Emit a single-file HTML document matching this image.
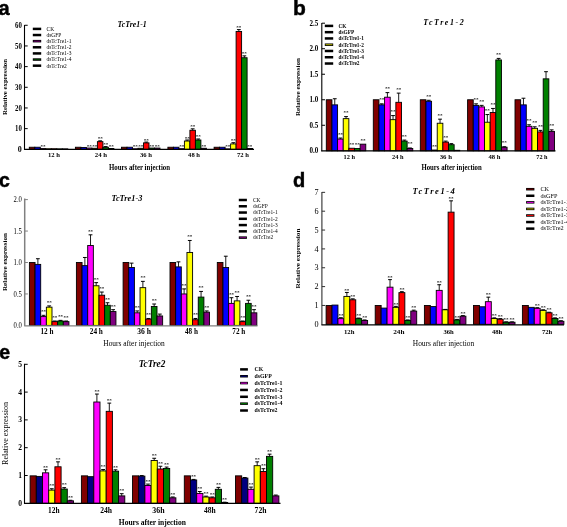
<!DOCTYPE html>
<html><head><meta charset="utf-8"><style>
html,body{margin:0;padding:0;background:#fff;}
body{width:567px;height:527px;overflow:hidden;}
svg{display:block;will-change:transform;}
</style></head><body>
<svg width="567" height="527" viewBox="0 0 567 527">
<rect x="0" y="0" width="567" height="527" fill="#fff"/>
<rect x="29.3" y="147.23" width="5.5" height="2.07" fill="#800000" stroke="#000" stroke-width="0.9"/>
<rect x="34.8" y="147.23" width="5.5" height="2.07" fill="#0000ff" stroke="#000" stroke-width="0.9"/>
<rect x="40.3" y="148.58" width="5.5" height="0.72" fill="#ff00ff" stroke="#000" stroke-width="0.9"/>
<text x="43.05" y="148.08" font-family='"Liberation Serif", serif' font-size="5" font-weight="bold" font-style="normal" text-anchor="middle" fill="#000">**</text>
<rect x="45.8" y="148.78" width="5.5" height="0.52" fill="#ffff00" stroke="#000" stroke-width="0.9"/>
<rect x="51.3" y="148.78" width="5.5" height="0.52" fill="#ff0000" stroke="#000" stroke-width="0.9"/>
<rect x="56.8" y="148.89" width="5.5" height="0.41" fill="#008000" stroke="#000" stroke-width="0.9"/>
<rect x="62.3" y="148.89" width="5.5" height="0.41" fill="#800080" stroke="#000" stroke-width="0.9"/>
<rect x="75.4" y="147.23" width="5.5" height="2.07" fill="#800000" stroke="#000" stroke-width="0.9"/>
<rect x="80.9" y="147.44" width="5.5" height="1.86" fill="#0000ff" stroke="#000" stroke-width="0.9"/>
<rect x="86.4" y="148.06" width="5.5" height="1.24" fill="#ff00ff" stroke="#000" stroke-width="0.9"/>
<text x="89.15" y="147.56" font-family='"Liberation Serif", serif' font-size="5" font-weight="bold" font-style="normal" text-anchor="middle" fill="#000">**</text>
<rect x="91.9" y="148.27" width="5.5" height="1.03" fill="#ffff00" stroke="#000" stroke-width="0.9"/>
<text x="94.65" y="147.77" font-family='"Liberation Serif", serif' font-size="5" font-weight="bold" font-style="normal" text-anchor="middle" fill="#000">**</text>
<rect x="97.4" y="141.65" width="5.5" height="7.65" fill="#ff0000" stroke="#000" stroke-width="0.9"/>
<line x1="100.15" y1="141.65" x2="100.15" y2="140.83" stroke="#000" stroke-width="0.9"/>
<line x1="98.25" y1="140.83" x2="102.05" y2="140.83" stroke="#000" stroke-width="1"/>
<text x="100.15" y="140.33" font-family='"Liberation Serif", serif' font-size="5" font-weight="bold" font-style="normal" text-anchor="middle" fill="#000">**</text>
<rect x="102.9" y="147.23" width="5.5" height="2.07" fill="#008000" stroke="#000" stroke-width="0.9"/>
<line x1="105.65" y1="147.23" x2="105.65" y2="146.61" stroke="#000" stroke-width="0.9"/>
<line x1="103.75" y1="146.61" x2="107.55" y2="146.61" stroke="#000" stroke-width="1"/>
<text x="105.65" y="146.11" font-family='"Liberation Serif", serif' font-size="5" font-weight="bold" font-style="normal" text-anchor="middle" fill="#000">**</text>
<rect x="108.4" y="148.47" width="5.5" height="0.83" fill="#800080" stroke="#000" stroke-width="0.9"/>
<text x="111.15" y="147.97" font-family='"Liberation Serif", serif' font-size="5" font-weight="bold" font-style="normal" text-anchor="middle" fill="#000">**</text>
<rect x="121.5" y="147.23" width="5.5" height="2.07" fill="#800000" stroke="#000" stroke-width="0.9"/>
<rect x="127" y="147.23" width="5.5" height="2.07" fill="#0000ff" stroke="#000" stroke-width="0.9"/>
<rect x="132.5" y="148.78" width="5.5" height="0.52" fill="#ff00ff" stroke="#000" stroke-width="0.9"/>
<text x="135.25" y="148.28" font-family='"Liberation Serif", serif' font-size="5" font-weight="bold" font-style="normal" text-anchor="middle" fill="#000">**</text>
<rect x="138" y="148.27" width="5.5" height="1.03" fill="#ffff00" stroke="#000" stroke-width="0.9"/>
<text x="140.75" y="147.77" font-family='"Liberation Serif", serif' font-size="5" font-weight="bold" font-style="normal" text-anchor="middle" fill="#000">**</text>
<rect x="143.5" y="142.89" width="5.5" height="6.41" fill="#ff0000" stroke="#000" stroke-width="0.9"/>
<line x1="146.25" y1="142.89" x2="146.25" y2="142.07" stroke="#000" stroke-width="0.9"/>
<line x1="144.35" y1="142.07" x2="148.15" y2="142.07" stroke="#000" stroke-width="1"/>
<text x="146.25" y="141.57" font-family='"Liberation Serif", serif' font-size="5" font-weight="bold" font-style="normal" text-anchor="middle" fill="#000">**</text>
<rect x="149" y="148.06" width="5.5" height="1.24" fill="#008000" stroke="#000" stroke-width="0.9"/>
<text x="151.75" y="147.56" font-family='"Liberation Serif", serif' font-size="5" font-weight="bold" font-style="normal" text-anchor="middle" fill="#000">**</text>
<rect x="154.5" y="148.06" width="5.5" height="1.24" fill="#800080" stroke="#000" stroke-width="0.9"/>
<text x="157.25" y="147.56" font-family='"Liberation Serif", serif' font-size="5" font-weight="bold" font-style="normal" text-anchor="middle" fill="#000">**</text>
<rect x="167.9" y="147.23" width="5.5" height="2.07" fill="#800000" stroke="#000" stroke-width="0.9"/>
<rect x="173.4" y="147.23" width="5.5" height="2.07" fill="#0000ff" stroke="#000" stroke-width="0.9"/>
<rect x="178.9" y="148.68" width="5.5" height="0.62" fill="#ff00ff" stroke="#000" stroke-width="0.9"/>
<text x="181.65" y="148.18" font-family='"Liberation Serif", serif' font-size="5" font-weight="bold" font-style="normal" text-anchor="middle" fill="#000">**</text>
<rect x="184.4" y="141.03" width="5.5" height="8.27" fill="#ffff00" stroke="#000" stroke-width="0.9"/>
<line x1="187.15" y1="141.03" x2="187.15" y2="140" stroke="#000" stroke-width="0.9"/>
<line x1="185.25" y1="140" x2="189.05" y2="140" stroke="#000" stroke-width="1"/>
<text x="187.15" y="139.5" font-family='"Liberation Serif", serif' font-size="5" font-weight="bold" font-style="normal" text-anchor="middle" fill="#000">**</text>
<rect x="189.9" y="130.28" width="5.5" height="19.02" fill="#ff0000" stroke="#000" stroke-width="0.9"/>
<line x1="192.65" y1="130.28" x2="192.65" y2="128.84" stroke="#000" stroke-width="0.9"/>
<line x1="190.75" y1="128.84" x2="194.55" y2="128.84" stroke="#000" stroke-width="1"/>
<text x="192.65" y="128.34" font-family='"Liberation Serif", serif' font-size="5" font-weight="bold" font-style="normal" text-anchor="middle" fill="#000">**</text>
<rect x="195.4" y="140" width="5.5" height="9.3" fill="#008000" stroke="#000" stroke-width="0.9"/>
<line x1="198.15" y1="140" x2="198.15" y2="138.97" stroke="#000" stroke-width="0.9"/>
<line x1="196.25" y1="138.97" x2="200.05" y2="138.97" stroke="#000" stroke-width="1"/>
<text x="198.15" y="138.47" font-family='"Liberation Serif", serif' font-size="5" font-weight="bold" font-style="normal" text-anchor="middle" fill="#000">**</text>
<rect x="200.9" y="148.27" width="5.5" height="1.03" fill="#800080" stroke="#000" stroke-width="0.9"/>
<text x="203.65" y="147.77" font-family='"Liberation Serif", serif' font-size="5" font-weight="bold" font-style="normal" text-anchor="middle" fill="#000">**</text>
<rect x="214.1" y="147.23" width="5.5" height="2.07" fill="#800000" stroke="#000" stroke-width="0.9"/>
<rect x="219.6" y="147.23" width="5.5" height="2.07" fill="#0000ff" stroke="#000" stroke-width="0.9"/>
<rect x="225.1" y="148.89" width="5.5" height="0.41" fill="#ff00ff" stroke="#000" stroke-width="0.9"/>
<text x="227.85" y="148.39" font-family='"Liberation Serif", serif' font-size="5" font-weight="bold" font-style="normal" text-anchor="middle" fill="#000">**</text>
<rect x="230.6" y="143.93" width="5.5" height="5.37" fill="#ffff00" stroke="#000" stroke-width="0.9"/>
<line x1="233.35" y1="143.93" x2="233.35" y2="142.69" stroke="#000" stroke-width="0.9"/>
<line x1="231.45" y1="142.69" x2="235.25" y2="142.69" stroke="#000" stroke-width="1"/>
<text x="233.35" y="142.19" font-family='"Liberation Serif", serif' font-size="5" font-weight="bold" font-style="normal" text-anchor="middle" fill="#000">**</text>
<rect x="236.1" y="31.48" width="5.5" height="117.82" fill="#ff0000" stroke="#000" stroke-width="0.9"/>
<line x1="238.85" y1="31.48" x2="238.85" y2="29.62" stroke="#000" stroke-width="0.9"/>
<line x1="236.95" y1="29.62" x2="240.75" y2="29.62" stroke="#000" stroke-width="1"/>
<text x="238.85" y="29.12" font-family='"Liberation Serif", serif' font-size="5" font-weight="bold" font-style="normal" text-anchor="middle" fill="#000">**</text>
<rect x="241.6" y="57.73" width="5.5" height="91.57" fill="#008000" stroke="#000" stroke-width="0.9"/>
<line x1="244.35" y1="57.73" x2="244.35" y2="55.87" stroke="#000" stroke-width="0.9"/>
<line x1="242.45" y1="55.87" x2="246.25" y2="55.87" stroke="#000" stroke-width="1"/>
<text x="244.35" y="55.37" font-family='"Liberation Serif", serif' font-size="5" font-weight="bold" font-style="normal" text-anchor="middle" fill="#000">**</text>
<rect x="247.1" y="148.47" width="5.5" height="0.83" fill="#800080" stroke="#000" stroke-width="0.9"/>
<text x="249.85" y="147.97" font-family='"Liberation Serif", serif' font-size="5" font-weight="bold" font-style="normal" text-anchor="middle" fill="#000">**</text>
<line x1="24.5" y1="25" x2="24.5" y2="149.8" stroke="#000" stroke-width="1.1"/>
<line x1="24" y1="149.3" x2="254" y2="149.3" stroke="#000" stroke-width="1.2"/>
<text x="21.8" y="151.94" font-family='"Liberation Serif", serif' font-size="8" font-weight="bold" font-style="normal" text-anchor="end" fill="#000">0</text>
<line x1="24.5" y1="128.63" x2="27.7" y2="128.63" stroke="#000" stroke-width="1"/>
<text x="21.8" y="131.27" font-family='"Liberation Serif", serif' font-size="8" font-weight="bold" font-style="normal" text-anchor="end" fill="#000" textLength="6.8" lengthAdjust="spacingAndGlyphs">10</text>
<line x1="24.5" y1="107.96" x2="27.7" y2="107.96" stroke="#000" stroke-width="1"/>
<text x="21.8" y="110.6" font-family='"Liberation Serif", serif' font-size="8" font-weight="bold" font-style="normal" text-anchor="end" fill="#000" textLength="6.8" lengthAdjust="spacingAndGlyphs">20</text>
<line x1="24.5" y1="87.29" x2="27.7" y2="87.29" stroke="#000" stroke-width="1"/>
<text x="21.8" y="89.93" font-family='"Liberation Serif", serif' font-size="8" font-weight="bold" font-style="normal" text-anchor="end" fill="#000" textLength="6.8" lengthAdjust="spacingAndGlyphs">30</text>
<line x1="24.5" y1="66.62" x2="27.7" y2="66.62" stroke="#000" stroke-width="1"/>
<text x="21.8" y="69.26" font-family='"Liberation Serif", serif' font-size="8" font-weight="bold" font-style="normal" text-anchor="end" fill="#000" textLength="6.8" lengthAdjust="spacingAndGlyphs">40</text>
<line x1="24.5" y1="45.95" x2="27.7" y2="45.95" stroke="#000" stroke-width="1"/>
<text x="21.8" y="48.59" font-family='"Liberation Serif", serif' font-size="8" font-weight="bold" font-style="normal" text-anchor="end" fill="#000" textLength="6.8" lengthAdjust="spacingAndGlyphs">50</text>
<line x1="24.5" y1="25.28" x2="27.7" y2="25.28" stroke="#000" stroke-width="1"/>
<text x="21.8" y="27.92" font-family='"Liberation Serif", serif' font-size="8" font-weight="bold" font-style="normal" text-anchor="end" fill="#000" textLength="6.8" lengthAdjust="spacingAndGlyphs">60</text>
<text x="-1.5" y="14.5" font-family='"Liberation Sans", sans-serif' font-size="20" font-weight="bold" font-style="normal" text-anchor="start" fill="#000" stroke="#000" stroke-width="0.45">a</text>
<text x="117.6" y="26.9" font-family='"Liberation Serif", serif' font-size="9" font-weight="bold" font-style="italic" text-anchor="start" fill="#000" textLength="29.2" lengthAdjust="spacingAndGlyphs">TcTre1-1</text>
<text transform="translate(7.4 87) rotate(-90)" x="0" y="0" font-family='"Liberation Serif", serif' font-size="7" font-weight="bold" text-anchor="middle" textLength="56" lengthAdjust="spacingAndGlyphs">Relative expression</text>
<text x="47.9" y="156.9" font-family='"Liberation Serif", serif' font-size="7" font-weight="bold" font-style="normal" text-anchor="start" fill="#000" textLength="12" lengthAdjust="spacingAndGlyphs">12 h</text>
<text x="94.8" y="156.9" font-family='"Liberation Serif", serif' font-size="7" font-weight="bold" font-style="normal" text-anchor="start" fill="#000" textLength="12.3" lengthAdjust="spacingAndGlyphs">24 h</text>
<text x="139.9" y="156.9" font-family='"Liberation Serif", serif' font-size="7" font-weight="bold" font-style="normal" text-anchor="start" fill="#000" textLength="12.1" lengthAdjust="spacingAndGlyphs">36 h</text>
<text x="188.1" y="156.9" font-family='"Liberation Serif", serif' font-size="7" font-weight="bold" font-style="normal" text-anchor="start" fill="#000" textLength="11.9" lengthAdjust="spacingAndGlyphs">48 h</text>
<text x="237" y="156.9" font-family='"Liberation Serif", serif' font-size="7" font-weight="bold" font-style="normal" text-anchor="start" fill="#000" textLength="11.9" lengthAdjust="spacingAndGlyphs">72 h</text>
<text x="109" y="169.6" font-family='"Liberation Serif", serif' font-size="7.5" font-weight="bold" font-style="normal" text-anchor="start" fill="#000" textLength="61" lengthAdjust="spacingAndGlyphs">Hours after injection</text>
<rect x="32.8" y="27.65" width="8.4" height="2.5" fill="#000" stroke="#000" stroke-width="0"/>
<text x="46.5" y="30.71" font-family='"Liberation Serif", serif' font-size="5.5" font-weight="normal" font-style="normal" text-anchor="start" fill="#000" textLength="7.59" lengthAdjust="spacingAndGlyphs">CK</text>
<rect x="32.8" y="33.78" width="8.4" height="2.5" fill="#000" stroke="#000" stroke-width="0"/>
<text x="46.5" y="36.84" font-family='"Liberation Serif", serif' font-size="5.5" font-weight="normal" font-style="normal" text-anchor="start" fill="#000" textLength="14.87" lengthAdjust="spacingAndGlyphs">dsGFP</text>
<rect x="32.8" y="39.91" width="8.4" height="2.5" fill="#000" stroke="#000" stroke-width="0"/>
<rect x="33.6" y="40.71" width="6.8" height="0.9" fill="#800080" stroke="#000" stroke-width="0"/>
<text x="46.5" y="42.97" font-family='"Liberation Serif", serif' font-size="5.5" font-weight="normal" font-style="normal" text-anchor="start" fill="#000" textLength="24.9" lengthAdjust="spacingAndGlyphs">dsTcTre1-1</text>
<rect x="32.8" y="46.04" width="8.4" height="2.5" fill="#000" stroke="#000" stroke-width="0"/>
<text x="46.5" y="49.1" font-family='"Liberation Serif", serif' font-size="5.5" font-weight="normal" font-style="normal" text-anchor="start" fill="#000" textLength="24.9" lengthAdjust="spacingAndGlyphs">dsTcTre1-2</text>
<rect x="32.8" y="52.17" width="8.4" height="2.5" fill="#000" stroke="#000" stroke-width="0"/>
<text x="46.5" y="55.23" font-family='"Liberation Serif", serif' font-size="5.5" font-weight="normal" font-style="normal" text-anchor="start" fill="#000" textLength="24.9" lengthAdjust="spacingAndGlyphs">dsTcTre1-3</text>
<rect x="32.8" y="58.3" width="8.4" height="2.5" fill="#000" stroke="#000" stroke-width="0"/>
<rect x="33.6" y="59.1" width="6.8" height="0.9" fill="#004000" stroke="#000" stroke-width="0"/>
<text x="46.5" y="61.36" font-family='"Liberation Serif", serif' font-size="5.5" font-weight="normal" font-style="normal" text-anchor="start" fill="#000" textLength="24.9" lengthAdjust="spacingAndGlyphs">dsTcTre1-4</text>
<rect x="32.8" y="64.43" width="8.4" height="2.5" fill="#000" stroke="#000" stroke-width="0"/>
<text x="46.5" y="67.5" font-family='"Liberation Serif", serif' font-size="5.5" font-weight="normal" font-style="normal" text-anchor="start" fill="#000" textLength="20.35" lengthAdjust="spacingAndGlyphs">dsTcTre2</text>
<rect x="326.3" y="99.76" width="5.64" height="51.04" fill="#800000" stroke="#000" stroke-width="0.9"/>
<rect x="331.94" y="104.86" width="5.64" height="45.94" fill="#0000ff" stroke="#000" stroke-width="0.9"/>
<line x1="334.76" y1="104.86" x2="334.76" y2="98.74" stroke="#000" stroke-width="0.9"/>
<line x1="332.86" y1="98.74" x2="336.66" y2="98.74" stroke="#000" stroke-width="1"/>
<rect x="337.58" y="139.06" width="5.64" height="11.74" fill="#ff00ff" stroke="#000" stroke-width="0.9"/>
<line x1="340.4" y1="139.06" x2="340.4" y2="138.04" stroke="#000" stroke-width="0.9"/>
<line x1="338.5" y1="138.04" x2="342.3" y2="138.04" stroke="#000" stroke-width="1"/>
<text x="340.4" y="135.54" font-family='"Liberation Serif", serif' font-size="5" font-weight="bold" font-style="normal" text-anchor="middle" fill="#000">**</text>
<rect x="343.22" y="118.64" width="5.64" height="32.16" fill="#ffff00" stroke="#000" stroke-width="0.9"/>
<line x1="346.04" y1="118.64" x2="346.04" y2="116.6" stroke="#000" stroke-width="0.9"/>
<line x1="344.14" y1="116.6" x2="347.94" y2="116.6" stroke="#000" stroke-width="1"/>
<text x="346.04" y="114.1" font-family='"Liberation Serif", serif' font-size="5" font-weight="bold" font-style="normal" text-anchor="middle" fill="#000">**</text>
<rect x="348.86" y="148.25" width="5.64" height="2.55" fill="#ff0000" stroke="#000" stroke-width="0.9"/>
<text x="351.68" y="145.75" font-family='"Liberation Serif", serif' font-size="5" font-weight="bold" font-style="normal" text-anchor="middle" fill="#000">**</text>
<rect x="354.5" y="148.5" width="5.64" height="2.3" fill="#008000" stroke="#000" stroke-width="0.9"/>
<text x="357.32" y="146" font-family='"Liberation Serif", serif' font-size="5" font-weight="bold" font-style="normal" text-anchor="middle" fill="#000">**</text>
<rect x="360.14" y="144.16" width="5.64" height="6.64" fill="#800080" stroke="#000" stroke-width="0.9"/>
<text x="362.96" y="141.66" font-family='"Liberation Serif", serif' font-size="5" font-weight="bold" font-style="normal" text-anchor="middle" fill="#000">**</text>
<rect x="373.3" y="99.76" width="5.64" height="51.04" fill="#800000" stroke="#000" stroke-width="0.9"/>
<rect x="378.94" y="104.86" width="5.64" height="45.94" fill="#0000ff" stroke="#000" stroke-width="0.9"/>
<line x1="381.76" y1="104.86" x2="381.76" y2="103.84" stroke="#000" stroke-width="0.9"/>
<line x1="379.86" y1="103.84" x2="383.66" y2="103.84" stroke="#000" stroke-width="1"/>
<text x="381.76" y="101.34" font-family='"Liberation Serif", serif' font-size="5" font-weight="bold" font-style="normal" text-anchor="middle" fill="#000">**</text>
<rect x="384.58" y="97.21" width="5.64" height="53.59" fill="#ff00ff" stroke="#000" stroke-width="0.9"/>
<line x1="387.4" y1="97.21" x2="387.4" y2="92.61" stroke="#000" stroke-width="0.9"/>
<line x1="385.5" y1="92.61" x2="389.3" y2="92.61" stroke="#000" stroke-width="1"/>
<text x="387.4" y="90.11" font-family='"Liberation Serif", serif' font-size="5" font-weight="bold" font-style="normal" text-anchor="middle" fill="#000">**</text>
<rect x="390.22" y="119.67" width="5.64" height="31.13" fill="#ffff00" stroke="#000" stroke-width="0.9"/>
<line x1="393.04" y1="119.67" x2="393.04" y2="115.58" stroke="#000" stroke-width="0.9"/>
<line x1="391.14" y1="115.58" x2="394.94" y2="115.58" stroke="#000" stroke-width="1"/>
<text x="393.04" y="113.08" font-family='"Liberation Serif", serif' font-size="5" font-weight="bold" font-style="normal" text-anchor="middle" fill="#000">**</text>
<rect x="395.86" y="102.31" width="5.64" height="48.49" fill="#ff0000" stroke="#000" stroke-width="0.9"/>
<line x1="398.68" y1="102.31" x2="398.68" y2="93.12" stroke="#000" stroke-width="0.9"/>
<line x1="396.78" y1="93.12" x2="400.58" y2="93.12" stroke="#000" stroke-width="1"/>
<text x="398.68" y="90.62" font-family='"Liberation Serif", serif' font-size="5" font-weight="bold" font-style="normal" text-anchor="middle" fill="#000">**</text>
<rect x="401.5" y="141.1" width="5.64" height="9.7" fill="#008000" stroke="#000" stroke-width="0.9"/>
<line x1="404.32" y1="141.1" x2="404.32" y2="140.08" stroke="#000" stroke-width="0.9"/>
<line x1="402.42" y1="140.08" x2="406.22" y2="140.08" stroke="#000" stroke-width="1"/>
<text x="404.32" y="137.58" font-family='"Liberation Serif", serif' font-size="5" font-weight="bold" font-style="normal" text-anchor="middle" fill="#000">**</text>
<rect x="407.14" y="148.5" width="5.64" height="2.3" fill="#800080" stroke="#000" stroke-width="0.9"/>
<line x1="409.96" y1="148.5" x2="409.96" y2="147.99" stroke="#000" stroke-width="0.9"/>
<line x1="408.06" y1="147.99" x2="411.86" y2="147.99" stroke="#000" stroke-width="1"/>
<text x="409.96" y="145.49" font-family='"Liberation Serif", serif' font-size="5" font-weight="bold" font-style="normal" text-anchor="middle" fill="#000">**</text>
<rect x="420.3" y="99.76" width="5.64" height="51.04" fill="#800000" stroke="#000" stroke-width="0.9"/>
<rect x="425.94" y="101.29" width="5.64" height="49.51" fill="#0000ff" stroke="#000" stroke-width="0.9"/>
<line x1="428.76" y1="101.29" x2="428.76" y2="100.27" stroke="#000" stroke-width="0.9"/>
<line x1="426.86" y1="100.27" x2="430.66" y2="100.27" stroke="#000" stroke-width="1"/>
<text x="428.76" y="97.77" font-family='"Liberation Serif", serif' font-size="5" font-weight="bold" font-style="normal" text-anchor="middle" fill="#000">**</text>
<rect x="431.58" y="150.03" width="5.64" height="0.77" fill="#ff00ff" stroke="#000" stroke-width="0.9"/>
<text x="434.4" y="147.53" font-family='"Liberation Serif", serif' font-size="5" font-weight="bold" font-style="normal" text-anchor="middle" fill="#000">**</text>
<rect x="437.22" y="123.24" width="5.64" height="27.56" fill="#ffff00" stroke="#000" stroke-width="0.9"/>
<line x1="440.04" y1="123.24" x2="440.04" y2="119.16" stroke="#000" stroke-width="0.9"/>
<line x1="438.14" y1="119.16" x2="441.94" y2="119.16" stroke="#000" stroke-width="1"/>
<text x="440.04" y="116.66" font-family='"Liberation Serif", serif' font-size="5" font-weight="bold" font-style="normal" text-anchor="middle" fill="#000">**</text>
<rect x="442.86" y="142.12" width="5.64" height="8.68" fill="#ff0000" stroke="#000" stroke-width="0.9"/>
<line x1="445.68" y1="142.12" x2="445.68" y2="141.1" stroke="#000" stroke-width="0.9"/>
<line x1="443.78" y1="141.1" x2="447.58" y2="141.1" stroke="#000" stroke-width="1"/>
<text x="445.68" y="138.6" font-family='"Liberation Serif", serif' font-size="5" font-weight="bold" font-style="normal" text-anchor="middle" fill="#000">**</text>
<rect x="448.5" y="144.68" width="5.64" height="6.12" fill="#008000" stroke="#000" stroke-width="0.9"/>
<line x1="451.32" y1="144.68" x2="451.32" y2="143.65" stroke="#000" stroke-width="0.9"/>
<line x1="449.42" y1="143.65" x2="453.22" y2="143.65" stroke="#000" stroke-width="1"/>
<rect x="454.14" y="150.29" width="5.64" height="0.51" fill="#800080" stroke="#000" stroke-width="0.9"/>
<rect x="467.6" y="99.76" width="5.64" height="51.04" fill="#800000" stroke="#000" stroke-width="0.9"/>
<rect x="473.24" y="105.37" width="5.64" height="45.43" fill="#0000ff" stroke="#000" stroke-width="0.9"/>
<line x1="476.06" y1="105.37" x2="476.06" y2="103.84" stroke="#000" stroke-width="0.9"/>
<line x1="474.16" y1="103.84" x2="477.96" y2="103.84" stroke="#000" stroke-width="1"/>
<text x="476.06" y="101.34" font-family='"Liberation Serif", serif' font-size="5" font-weight="bold" font-style="normal" text-anchor="middle" fill="#000">**</text>
<rect x="478.88" y="106.91" width="5.64" height="43.89" fill="#ff00ff" stroke="#000" stroke-width="0.9"/>
<line x1="481.7" y1="106.91" x2="481.7" y2="105.37" stroke="#000" stroke-width="0.9"/>
<line x1="479.8" y1="105.37" x2="483.6" y2="105.37" stroke="#000" stroke-width="1"/>
<text x="481.7" y="102.87" font-family='"Liberation Serif", serif' font-size="5" font-weight="bold" font-style="normal" text-anchor="middle" fill="#000">**</text>
<rect x="484.52" y="122.22" width="5.64" height="28.58" fill="#ffff00" stroke="#000" stroke-width="0.9"/>
<line x1="487.34" y1="122.22" x2="487.34" y2="114.56" stroke="#000" stroke-width="0.9"/>
<line x1="485.44" y1="114.56" x2="489.24" y2="114.56" stroke="#000" stroke-width="1"/>
<text x="487.34" y="112.06" font-family='"Liberation Serif", serif' font-size="5" font-weight="bold" font-style="normal" text-anchor="middle" fill="#000">**</text>
<rect x="490.16" y="112.52" width="5.64" height="38.28" fill="#ff0000" stroke="#000" stroke-width="0.9"/>
<line x1="492.98" y1="112.52" x2="492.98" y2="108.44" stroke="#000" stroke-width="0.9"/>
<line x1="491.08" y1="108.44" x2="494.88" y2="108.44" stroke="#000" stroke-width="1"/>
<text x="492.98" y="105.94" font-family='"Liberation Serif", serif' font-size="5" font-weight="bold" font-style="normal" text-anchor="middle" fill="#000">**</text>
<rect x="495.8" y="59.95" width="5.64" height="90.85" fill="#008000" stroke="#000" stroke-width="0.9"/>
<line x1="498.62" y1="59.95" x2="498.62" y2="58.42" stroke="#000" stroke-width="0.9"/>
<line x1="496.72" y1="58.42" x2="500.52" y2="58.42" stroke="#000" stroke-width="1"/>
<text x="498.62" y="55.92" font-family='"Liberation Serif", serif' font-size="5" font-weight="bold" font-style="normal" text-anchor="middle" fill="#000">**</text>
<rect x="501.44" y="147.23" width="5.64" height="3.57" fill="#800080" stroke="#000" stroke-width="0.9"/>
<line x1="504.26" y1="147.23" x2="504.26" y2="146.72" stroke="#000" stroke-width="0.9"/>
<line x1="502.36" y1="146.72" x2="506.16" y2="146.72" stroke="#000" stroke-width="1"/>
<text x="504.26" y="144.22" font-family='"Liberation Serif", serif' font-size="5" font-weight="bold" font-style="normal" text-anchor="middle" fill="#000">**</text>
<rect x="515" y="99.76" width="5.64" height="51.04" fill="#800000" stroke="#000" stroke-width="0.9"/>
<rect x="520.64" y="104.86" width="5.64" height="45.94" fill="#0000ff" stroke="#000" stroke-width="0.9"/>
<line x1="523.46" y1="104.86" x2="523.46" y2="98.23" stroke="#000" stroke-width="0.9"/>
<line x1="521.56" y1="98.23" x2="525.36" y2="98.23" stroke="#000" stroke-width="1"/>
<rect x="526.28" y="126.3" width="5.64" height="24.5" fill="#ff00ff" stroke="#000" stroke-width="0.9"/>
<line x1="529.1" y1="126.3" x2="529.1" y2="124.77" stroke="#000" stroke-width="0.9"/>
<line x1="527.2" y1="124.77" x2="531" y2="124.77" stroke="#000" stroke-width="1"/>
<text x="529.1" y="122.27" font-family='"Liberation Serif", serif' font-size="5" font-weight="bold" font-style="normal" text-anchor="middle" fill="#000">**</text>
<rect x="531.92" y="128.34" width="5.64" height="22.46" fill="#ffff00" stroke="#000" stroke-width="0.9"/>
<line x1="534.74" y1="128.34" x2="534.74" y2="126.81" stroke="#000" stroke-width="0.9"/>
<line x1="532.84" y1="126.81" x2="536.64" y2="126.81" stroke="#000" stroke-width="1"/>
<text x="534.74" y="124.31" font-family='"Liberation Serif", serif' font-size="5" font-weight="bold" font-style="normal" text-anchor="middle" fill="#000">**</text>
<rect x="537.56" y="131.92" width="5.64" height="18.88" fill="#ff0000" stroke="#000" stroke-width="0.9"/>
<line x1="540.38" y1="131.92" x2="540.38" y2="130.38" stroke="#000" stroke-width="0.9"/>
<line x1="538.48" y1="130.38" x2="542.28" y2="130.38" stroke="#000" stroke-width="1"/>
<text x="540.38" y="127.88" font-family='"Liberation Serif", serif' font-size="5" font-weight="bold" font-style="normal" text-anchor="middle" fill="#000">**</text>
<rect x="543.2" y="78.83" width="5.64" height="71.97" fill="#008000" stroke="#000" stroke-width="0.9"/>
<line x1="546.02" y1="78.83" x2="546.02" y2="71.69" stroke="#000" stroke-width="0.9"/>
<line x1="544.12" y1="71.69" x2="547.92" y2="71.69" stroke="#000" stroke-width="1"/>
<rect x="548.84" y="131.4" width="5.64" height="19.4" fill="#800080" stroke="#000" stroke-width="0.9"/>
<line x1="551.66" y1="131.4" x2="551.66" y2="129.87" stroke="#000" stroke-width="0.9"/>
<line x1="549.76" y1="129.87" x2="553.56" y2="129.87" stroke="#000" stroke-width="1"/>
<text x="551.66" y="127.37" font-family='"Liberation Serif", serif' font-size="5" font-weight="bold" font-style="normal" text-anchor="middle" fill="#000">**</text>
<line x1="321.8" y1="23" x2="321.8" y2="151.3" stroke="#000" stroke-width="1.1"/>
<line x1="321.3" y1="150.8" x2="555.5" y2="150.8" stroke="#000" stroke-width="1.2"/>
<text x="318.3" y="153.37" font-family='"Liberation Serif", serif' font-size="7.8" font-weight="bold" font-style="normal" text-anchor="end" fill="#000" textLength="8.8" lengthAdjust="spacingAndGlyphs">0.0</text>
<line x1="321.8" y1="125.28" x2="325" y2="125.28" stroke="#000" stroke-width="1"/>
<text x="318.3" y="127.85" font-family='"Liberation Serif", serif' font-size="7.8" font-weight="bold" font-style="normal" text-anchor="end" fill="#000" textLength="8.8" lengthAdjust="spacingAndGlyphs">0.5</text>
<line x1="321.8" y1="99.76" x2="325" y2="99.76" stroke="#000" stroke-width="1"/>
<text x="318.3" y="102.33" font-family='"Liberation Serif", serif' font-size="7.8" font-weight="bold" font-style="normal" text-anchor="end" fill="#000" textLength="8.8" lengthAdjust="spacingAndGlyphs">1.0</text>
<line x1="321.8" y1="74.24" x2="325" y2="74.24" stroke="#000" stroke-width="1"/>
<text x="318.3" y="76.81" font-family='"Liberation Serif", serif' font-size="7.8" font-weight="bold" font-style="normal" text-anchor="end" fill="#000" textLength="8.8" lengthAdjust="spacingAndGlyphs">1.5</text>
<line x1="321.8" y1="48.72" x2="325" y2="48.72" stroke="#000" stroke-width="1"/>
<text x="318.3" y="51.29" font-family='"Liberation Serif", serif' font-size="7.8" font-weight="bold" font-style="normal" text-anchor="end" fill="#000" textLength="8.8" lengthAdjust="spacingAndGlyphs">2.0</text>
<line x1="321.8" y1="23.2" x2="325" y2="23.2" stroke="#000" stroke-width="1"/>
<text x="318.3" y="25.77" font-family='"Liberation Serif", serif' font-size="7.8" font-weight="bold" font-style="normal" text-anchor="end" fill="#000" textLength="8.8" lengthAdjust="spacingAndGlyphs">2.5</text>
<text x="292.9" y="14.7" font-family='"Liberation Sans", sans-serif' font-size="21" font-weight="bold" font-style="normal" text-anchor="start" fill="#000" stroke="#000" stroke-width="0.45">b</text>
<text x="423.2" y="25" font-family='"Liberation Serif", serif' font-size="8" font-weight="bold" font-style="italic" textLength="40.5" lengthAdjust="spacing">TcTre1-2</text>
<text transform="translate(300.2 87) rotate(-90)" x="0" y="0" font-family='"Liberation Serif", serif' font-size="7" font-weight="bold" text-anchor="middle" textLength="58" lengthAdjust="spacingAndGlyphs">Relative expression</text>
<text x="343.5" y="158.6" font-family='"Liberation Serif", serif' font-size="7" font-weight="bold" font-style="normal" text-anchor="start" fill="#000" textLength="11.5" lengthAdjust="spacingAndGlyphs">12 h</text>
<text x="392" y="158.6" font-family='"Liberation Serif", serif' font-size="7" font-weight="bold" font-style="normal" text-anchor="start" fill="#000" textLength="11.5" lengthAdjust="spacingAndGlyphs">24 h</text>
<text x="439.7" y="158.6" font-family='"Liberation Serif", serif' font-size="7" font-weight="bold" font-style="normal" text-anchor="start" fill="#000" textLength="12.3" lengthAdjust="spacingAndGlyphs">36 h</text>
<text x="488.5" y="158.6" font-family='"Liberation Serif", serif' font-size="7" font-weight="bold" font-style="normal" text-anchor="start" fill="#000" textLength="12" lengthAdjust="spacingAndGlyphs">48 h</text>
<text x="536.3" y="158.6" font-family='"Liberation Serif", serif' font-size="7" font-weight="bold" font-style="normal" text-anchor="start" fill="#000" textLength="11.3" lengthAdjust="spacingAndGlyphs">72 h</text>
<text x="421.5" y="169.8" font-family='"Liberation Serif", serif' font-size="7.5" font-weight="bold" font-style="normal" text-anchor="start" fill="#000" textLength="60.2" lengthAdjust="spacingAndGlyphs">Hours after injection</text>
<rect x="324.8" y="24.65" width="8.4" height="2.5" fill="#000" stroke="#000" stroke-width="0"/>
<text x="338.5" y="27.71" font-family='"Liberation Serif", serif' font-size="5.5" font-weight="bold" font-style="normal" text-anchor="start" fill="#000" textLength="8" lengthAdjust="spacingAndGlyphs">CK</text>
<rect x="324.8" y="30.92" width="8.4" height="2.5" fill="#000" stroke="#000" stroke-width="0"/>
<text x="338.5" y="33.98" font-family='"Liberation Serif", serif' font-size="5.5" font-weight="bold" font-style="normal" text-anchor="start" fill="#000" textLength="15.71" lengthAdjust="spacingAndGlyphs">dsGFP</text>
<rect x="324.8" y="37.19" width="8.4" height="2.5" fill="#000" stroke="#000" stroke-width="0"/>
<text x="338.5" y="40.25" font-family='"Liberation Serif", serif' font-size="5.5" font-weight="bold" font-style="normal" text-anchor="start" fill="#000" textLength="25.4" lengthAdjust="spacingAndGlyphs">dsTcTre1-1</text>
<rect x="324.8" y="43.46" width="8.4" height="2.5" fill="#000" stroke="#000" stroke-width="0"/>
<rect x="325.6" y="44.26" width="6.8" height="0.9" fill="#c0c000" stroke="#000" stroke-width="0"/>
<text x="338.5" y="46.52" font-family='"Liberation Serif", serif' font-size="5.5" font-weight="bold" font-style="normal" text-anchor="start" fill="#000" textLength="25.4" lengthAdjust="spacingAndGlyphs">dsTcTre1-2</text>
<rect x="324.8" y="49.73" width="8.4" height="2.5" fill="#000" stroke="#000" stroke-width="0"/>
<text x="338.5" y="52.79" font-family='"Liberation Serif", serif' font-size="5.5" font-weight="bold" font-style="normal" text-anchor="start" fill="#000" textLength="25.4" lengthAdjust="spacingAndGlyphs">dsTcTre1-3</text>
<rect x="324.8" y="56" width="8.4" height="2.5" fill="#000" stroke="#000" stroke-width="0"/>
<text x="338.5" y="59.06" font-family='"Liberation Serif", serif' font-size="5.5" font-weight="bold" font-style="normal" text-anchor="start" fill="#000" textLength="25.4" lengthAdjust="spacingAndGlyphs">dsTcTre1-4</text>
<rect x="324.8" y="62.27" width="8.4" height="2.5" fill="#000" stroke="#000" stroke-width="0"/>
<text x="338.5" y="65.33" font-family='"Liberation Serif", serif' font-size="5.5" font-weight="bold" font-style="normal" text-anchor="start" fill="#000" textLength="20.96" lengthAdjust="spacingAndGlyphs">dsTcTre2</text>
<rect x="29.4" y="262.5" width="5.65" height="62.9" fill="#800000" stroke="#000" stroke-width="0.9"/>
<rect x="35.05" y="264.39" width="5.65" height="61.01" fill="#0000ff" stroke="#000" stroke-width="0.9"/>
<line x1="37.88" y1="264.39" x2="37.88" y2="258.73" stroke="#000" stroke-width="0.9"/>
<line x1="35.98" y1="258.73" x2="39.77" y2="258.73" stroke="#000" stroke-width="1"/>
<rect x="40.7" y="316.59" width="5.65" height="8.81" fill="#ff00ff" stroke="#000" stroke-width="0.9"/>
<line x1="43.53" y1="316.59" x2="43.53" y2="315.34" stroke="#000" stroke-width="0.9"/>
<line x1="41.63" y1="315.34" x2="45.43" y2="315.34" stroke="#000" stroke-width="1"/>
<text x="43.53" y="313.34" font-family='"Liberation Serif", serif' font-size="5" font-weight="bold" font-style="normal" text-anchor="middle" fill="#000">**</text>
<rect x="46.35" y="307.16" width="5.65" height="18.24" fill="#ffff00" stroke="#000" stroke-width="0.9"/>
<line x1="49.18" y1="307.16" x2="49.18" y2="305.9" stroke="#000" stroke-width="0.9"/>
<line x1="47.28" y1="305.9" x2="51.08" y2="305.9" stroke="#000" stroke-width="1"/>
<text x="49.18" y="303.9" font-family='"Liberation Serif", serif' font-size="5" font-weight="bold" font-style="normal" text-anchor="middle" fill="#000">**</text>
<rect x="52" y="321.63" width="5.65" height="3.77" fill="#ff0000" stroke="#000" stroke-width="0.9"/>
<line x1="54.83" y1="321.63" x2="54.83" y2="321" stroke="#000" stroke-width="0.9"/>
<line x1="52.93" y1="321" x2="56.73" y2="321" stroke="#000" stroke-width="1"/>
<text x="54.83" y="319" font-family='"Liberation Serif", serif' font-size="5" font-weight="bold" font-style="normal" text-anchor="middle" fill="#000">**</text>
<rect x="57.65" y="321" width="5.65" height="4.4" fill="#008000" stroke="#000" stroke-width="0.9"/>
<line x1="60.48" y1="321" x2="60.48" y2="320.37" stroke="#000" stroke-width="0.9"/>
<line x1="58.58" y1="320.37" x2="62.38" y2="320.37" stroke="#000" stroke-width="1"/>
<text x="60.48" y="318.37" font-family='"Liberation Serif", serif' font-size="5" font-weight="bold" font-style="normal" text-anchor="middle" fill="#000">**</text>
<rect x="63.3" y="321.63" width="5.65" height="3.77" fill="#800080" stroke="#000" stroke-width="0.9"/>
<line x1="66.12" y1="321.63" x2="66.12" y2="321" stroke="#000" stroke-width="0.9"/>
<line x1="64.22" y1="321" x2="68.03" y2="321" stroke="#000" stroke-width="1"/>
<text x="66.12" y="319" font-family='"Liberation Serif", serif' font-size="5" font-weight="bold" font-style="normal" text-anchor="middle" fill="#000">**</text>
<rect x="76.4" y="262.5" width="5.65" height="62.9" fill="#800000" stroke="#000" stroke-width="0.9"/>
<rect x="82.05" y="265.64" width="5.65" height="59.75" fill="#0000ff" stroke="#000" stroke-width="0.9"/>
<line x1="84.88" y1="265.64" x2="84.88" y2="257.47" stroke="#000" stroke-width="0.9"/>
<line x1="82.98" y1="257.47" x2="86.78" y2="257.47" stroke="#000" stroke-width="1"/>
<rect x="87.7" y="245.52" width="5.65" height="79.88" fill="#ff00ff" stroke="#000" stroke-width="0.9"/>
<line x1="90.53" y1="245.52" x2="90.53" y2="234.82" stroke="#000" stroke-width="0.9"/>
<line x1="88.62" y1="234.82" x2="92.43" y2="234.82" stroke="#000" stroke-width="1"/>
<text x="90.53" y="232.82" font-family='"Liberation Serif", serif' font-size="5" font-weight="bold" font-style="normal" text-anchor="middle" fill="#000">**</text>
<rect x="93.35" y="285.77" width="5.65" height="39.63" fill="#ffff00" stroke="#000" stroke-width="0.9"/>
<line x1="96.18" y1="285.77" x2="96.18" y2="282.63" stroke="#000" stroke-width="0.9"/>
<line x1="94.28" y1="282.63" x2="98.08" y2="282.63" stroke="#000" stroke-width="1"/>
<text x="96.18" y="280.63" font-family='"Liberation Serif", serif' font-size="5" font-weight="bold" font-style="normal" text-anchor="middle" fill="#000">**</text>
<rect x="99" y="295.21" width="5.65" height="30.19" fill="#ff0000" stroke="#000" stroke-width="0.9"/>
<line x1="101.83" y1="295.21" x2="101.83" y2="292.06" stroke="#000" stroke-width="0.9"/>
<line x1="99.92" y1="292.06" x2="103.73" y2="292.06" stroke="#000" stroke-width="1"/>
<text x="101.83" y="290.06" font-family='"Liberation Serif", serif' font-size="5" font-weight="bold" font-style="normal" text-anchor="middle" fill="#000">**</text>
<rect x="104.65" y="305.27" width="5.65" height="20.13" fill="#008000" stroke="#000" stroke-width="0.9"/>
<line x1="107.48" y1="305.27" x2="107.48" y2="302.76" stroke="#000" stroke-width="0.9"/>
<line x1="105.58" y1="302.76" x2="109.38" y2="302.76" stroke="#000" stroke-width="1"/>
<text x="107.48" y="300.76" font-family='"Liberation Serif", serif' font-size="5" font-weight="bold" font-style="normal" text-anchor="middle" fill="#000">**</text>
<rect x="110.3" y="311.56" width="5.65" height="13.84" fill="#800080" stroke="#000" stroke-width="0.9"/>
<line x1="113.13" y1="311.56" x2="113.13" y2="309.67" stroke="#000" stroke-width="0.9"/>
<line x1="111.23" y1="309.67" x2="115.03" y2="309.67" stroke="#000" stroke-width="1"/>
<text x="113.13" y="307.67" font-family='"Liberation Serif", serif' font-size="5" font-weight="bold" font-style="normal" text-anchor="middle" fill="#000">**</text>
<rect x="123.1" y="262.5" width="5.65" height="62.9" fill="#800000" stroke="#000" stroke-width="0.9"/>
<rect x="128.75" y="267.53" width="5.65" height="57.87" fill="#0000ff" stroke="#000" stroke-width="0.9"/>
<line x1="131.57" y1="267.53" x2="131.57" y2="263.13" stroke="#000" stroke-width="0.9"/>
<line x1="129.67" y1="263.13" x2="133.47" y2="263.13" stroke="#000" stroke-width="1"/>
<rect x="134.4" y="312.82" width="5.65" height="12.58" fill="#ff00ff" stroke="#000" stroke-width="0.9"/>
<line x1="137.22" y1="312.82" x2="137.22" y2="310.93" stroke="#000" stroke-width="0.9"/>
<line x1="135.32" y1="310.93" x2="139.12" y2="310.93" stroke="#000" stroke-width="1"/>
<text x="137.22" y="308.93" font-family='"Liberation Serif", serif' font-size="5" font-weight="bold" font-style="normal" text-anchor="middle" fill="#000">**</text>
<rect x="140.05" y="287.66" width="5.65" height="37.74" fill="#ffff00" stroke="#000" stroke-width="0.9"/>
<line x1="142.88" y1="287.66" x2="142.88" y2="281.37" stroke="#000" stroke-width="0.9"/>
<line x1="140.97" y1="281.37" x2="144.78" y2="281.37" stroke="#000" stroke-width="1"/>
<text x="142.88" y="279.37" font-family='"Liberation Serif", serif' font-size="5" font-weight="bold" font-style="normal" text-anchor="middle" fill="#000">**</text>
<rect x="145.7" y="319.11" width="5.65" height="6.29" fill="#ff0000" stroke="#000" stroke-width="0.9"/>
<line x1="148.52" y1="319.11" x2="148.52" y2="318.48" stroke="#000" stroke-width="0.9"/>
<line x1="146.62" y1="318.48" x2="150.42" y2="318.48" stroke="#000" stroke-width="1"/>
<text x="148.52" y="316.48" font-family='"Liberation Serif", serif' font-size="5" font-weight="bold" font-style="normal" text-anchor="middle" fill="#000">**</text>
<rect x="151.35" y="306.53" width="5.65" height="18.87" fill="#008000" stroke="#000" stroke-width="0.9"/>
<line x1="154.17" y1="306.53" x2="154.17" y2="304.01" stroke="#000" stroke-width="0.9"/>
<line x1="152.27" y1="304.01" x2="156.07" y2="304.01" stroke="#000" stroke-width="1"/>
<text x="154.17" y="302.01" font-family='"Liberation Serif", serif' font-size="5" font-weight="bold" font-style="normal" text-anchor="middle" fill="#000">**</text>
<rect x="157" y="315.96" width="5.65" height="9.43" fill="#800080" stroke="#000" stroke-width="0.9"/>
<line x1="159.82" y1="315.96" x2="159.82" y2="314.08" stroke="#000" stroke-width="0.9"/>
<line x1="157.92" y1="314.08" x2="161.72" y2="314.08" stroke="#000" stroke-width="1"/>
<rect x="170" y="262.5" width="5.65" height="62.9" fill="#800000" stroke="#000" stroke-width="0.9"/>
<rect x="175.65" y="266.9" width="5.65" height="58.5" fill="#0000ff" stroke="#000" stroke-width="0.9"/>
<line x1="178.47" y1="266.9" x2="178.47" y2="261.87" stroke="#000" stroke-width="0.9"/>
<line x1="176.57" y1="261.87" x2="180.38" y2="261.87" stroke="#000" stroke-width="1"/>
<rect x="181.3" y="293.95" width="5.65" height="31.45" fill="#ff00ff" stroke="#000" stroke-width="0.9"/>
<line x1="184.12" y1="293.95" x2="184.12" y2="288.92" stroke="#000" stroke-width="0.9"/>
<line x1="182.22" y1="288.92" x2="186.03" y2="288.92" stroke="#000" stroke-width="1"/>
<text x="184.12" y="286.92" font-family='"Liberation Serif", serif' font-size="5" font-weight="bold" font-style="normal" text-anchor="middle" fill="#000">**</text>
<rect x="186.95" y="252.44" width="5.65" height="72.96" fill="#ffff00" stroke="#000" stroke-width="0.9"/>
<line x1="189.77" y1="252.44" x2="189.77" y2="240.48" stroke="#000" stroke-width="0.9"/>
<line x1="187.87" y1="240.48" x2="191.67" y2="240.48" stroke="#000" stroke-width="1"/>
<text x="189.77" y="238.48" font-family='"Liberation Serif", serif' font-size="5" font-weight="bold" font-style="normal" text-anchor="middle" fill="#000">**</text>
<rect x="192.6" y="319.74" width="5.65" height="5.66" fill="#ff0000" stroke="#000" stroke-width="0.9"/>
<line x1="195.42" y1="319.74" x2="195.42" y2="318.48" stroke="#000" stroke-width="0.9"/>
<line x1="193.52" y1="318.48" x2="197.32" y2="318.48" stroke="#000" stroke-width="1"/>
<text x="195.42" y="316.48" font-family='"Liberation Serif", serif' font-size="5" font-weight="bold" font-style="normal" text-anchor="middle" fill="#000">**</text>
<rect x="198.25" y="297.09" width="5.65" height="28.3" fill="#008000" stroke="#000" stroke-width="0.9"/>
<line x1="201.07" y1="297.09" x2="201.07" y2="291.43" stroke="#000" stroke-width="0.9"/>
<line x1="199.17" y1="291.43" x2="202.97" y2="291.43" stroke="#000" stroke-width="1"/>
<text x="201.07" y="289.43" font-family='"Liberation Serif", serif' font-size="5" font-weight="bold" font-style="normal" text-anchor="middle" fill="#000">**</text>
<rect x="203.9" y="312.19" width="5.65" height="13.21" fill="#800080" stroke="#000" stroke-width="0.9"/>
<line x1="206.72" y1="312.19" x2="206.72" y2="310.93" stroke="#000" stroke-width="0.9"/>
<line x1="204.82" y1="310.93" x2="208.62" y2="310.93" stroke="#000" stroke-width="1"/>
<text x="206.72" y="308.93" font-family='"Liberation Serif", serif' font-size="5" font-weight="bold" font-style="normal" text-anchor="middle" fill="#000">**</text>
<rect x="217.3" y="262.5" width="5.65" height="62.9" fill="#800000" stroke="#000" stroke-width="0.9"/>
<rect x="222.95" y="267.53" width="5.65" height="57.87" fill="#0000ff" stroke="#000" stroke-width="0.9"/>
<line x1="225.78" y1="267.53" x2="225.78" y2="256.21" stroke="#000" stroke-width="0.9"/>
<line x1="223.88" y1="256.21" x2="227.68" y2="256.21" stroke="#000" stroke-width="1"/>
<rect x="228.6" y="303.38" width="5.65" height="22.01" fill="#ff00ff" stroke="#000" stroke-width="0.9"/>
<line x1="231.43" y1="303.38" x2="231.43" y2="297.72" stroke="#000" stroke-width="0.9"/>
<line x1="229.53" y1="297.72" x2="233.33" y2="297.72" stroke="#000" stroke-width="1"/>
<text x="231.43" y="295.72" font-family='"Liberation Serif", serif' font-size="5" font-weight="bold" font-style="normal" text-anchor="middle" fill="#000">**</text>
<rect x="234.25" y="300.87" width="5.65" height="24.53" fill="#ffff00" stroke="#000" stroke-width="0.9"/>
<line x1="237.07" y1="300.87" x2="237.07" y2="296.47" stroke="#000" stroke-width="0.9"/>
<line x1="235.17" y1="296.47" x2="238.97" y2="296.47" stroke="#000" stroke-width="1"/>
<text x="237.07" y="294.47" font-family='"Liberation Serif", serif' font-size="5" font-weight="bold" font-style="normal" text-anchor="middle" fill="#000">**</text>
<rect x="239.9" y="321.63" width="5.65" height="3.77" fill="#ff0000" stroke="#000" stroke-width="0.9"/>
<line x1="242.72" y1="321.63" x2="242.72" y2="321" stroke="#000" stroke-width="0.9"/>
<line x1="240.82" y1="321" x2="244.62" y2="321" stroke="#000" stroke-width="1"/>
<text x="242.72" y="319" font-family='"Liberation Serif", serif' font-size="5" font-weight="bold" font-style="normal" text-anchor="middle" fill="#000">**</text>
<rect x="245.55" y="303.38" width="5.65" height="22.01" fill="#008000" stroke="#000" stroke-width="0.9"/>
<line x1="248.38" y1="303.38" x2="248.38" y2="300.24" stroke="#000" stroke-width="0.9"/>
<line x1="246.47" y1="300.24" x2="250.28" y2="300.24" stroke="#000" stroke-width="1"/>
<text x="248.38" y="298.24" font-family='"Liberation Serif", serif' font-size="5" font-weight="bold" font-style="normal" text-anchor="middle" fill="#000">**</text>
<rect x="251.2" y="312.82" width="5.65" height="12.58" fill="#800080" stroke="#000" stroke-width="0.9"/>
<line x1="254.03" y1="312.82" x2="254.03" y2="309.67" stroke="#000" stroke-width="0.9"/>
<line x1="252.12" y1="309.67" x2="255.93" y2="309.67" stroke="#000" stroke-width="1"/>
<text x="254.03" y="307.67" font-family='"Liberation Serif", serif' font-size="5" font-weight="bold" font-style="normal" text-anchor="middle" fill="#000">**</text>
<line x1="24.7" y1="198.5" x2="24.7" y2="325.9" stroke="#808080" stroke-width="1.5"/>
<line x1="24.2" y1="325.9" x2="257.5" y2="325.9" stroke="#808080" stroke-width="1.3"/>
<text x="21.9" y="328.04" font-family='"Liberation Serif", serif' font-size="8" font-weight="normal" font-style="normal" text-anchor="end" fill="#000" textLength="8.3" lengthAdjust="spacingAndGlyphs">0.0</text>
<line x1="24.7" y1="293.95" x2="27.9" y2="293.95" stroke="#808080" stroke-width="1"/>
<text x="21.9" y="296.59" font-family='"Liberation Serif", serif' font-size="8" font-weight="normal" font-style="normal" text-anchor="end" fill="#000" textLength="8.3" lengthAdjust="spacingAndGlyphs">0.5</text>
<line x1="24.7" y1="262.5" x2="27.9" y2="262.5" stroke="#808080" stroke-width="1"/>
<text x="21.9" y="265.14" font-family='"Liberation Serif", serif' font-size="8" font-weight="normal" font-style="normal" text-anchor="end" fill="#000" textLength="8.3" lengthAdjust="spacingAndGlyphs">1.0</text>
<line x1="24.7" y1="231.05" x2="27.9" y2="231.05" stroke="#808080" stroke-width="1"/>
<text x="21.9" y="233.69" font-family='"Liberation Serif", serif' font-size="8" font-weight="normal" font-style="normal" text-anchor="end" fill="#000" textLength="8.3" lengthAdjust="spacingAndGlyphs">1.5</text>
<line x1="24.7" y1="199.6" x2="27.9" y2="199.6" stroke="#808080" stroke-width="1"/>
<text x="21.9" y="202.24" font-family='"Liberation Serif", serif' font-size="8" font-weight="normal" font-style="normal" text-anchor="end" fill="#000" textLength="8.3" lengthAdjust="spacingAndGlyphs">2.0</text>
<text x="-1" y="186.7" font-family='"Liberation Sans", sans-serif' font-size="19.5" font-weight="bold" font-style="normal" text-anchor="start" fill="#000" stroke="#000" stroke-width="0.45">c</text>
<text x="111.6" y="201.1" font-family='"Liberation Serif", serif' font-size="9" font-weight="bold" font-style="italic" text-anchor="start" fill="#000" textLength="30.7" lengthAdjust="spacingAndGlyphs">TcTre1-3</text>
<text transform="translate(7.4 262) rotate(-90)" x="0" y="0" font-family='"Liberation Serif", serif' font-size="7" font-weight="bold" text-anchor="middle" textLength="58" lengthAdjust="spacingAndGlyphs">Relative expression</text>
<text x="40.5" y="333.7" font-family='"Liberation Serif", serif' font-size="8" font-weight="bold" font-style="normal" text-anchor="start" fill="#000" textLength="13" lengthAdjust="spacingAndGlyphs">12 h</text>
<text x="89.8" y="333.7" font-family='"Liberation Serif", serif' font-size="8" font-weight="bold" font-style="normal" text-anchor="start" fill="#000" textLength="13.1" lengthAdjust="spacingAndGlyphs">24 h</text>
<text x="137.2" y="333.7" font-family='"Liberation Serif", serif' font-size="8" font-weight="bold" font-style="normal" text-anchor="start" fill="#000" textLength="13.7" lengthAdjust="spacingAndGlyphs">36 h</text>
<text x="184.9" y="333.7" font-family='"Liberation Serif", serif' font-size="8" font-weight="bold" font-style="normal" text-anchor="start" fill="#000" textLength="13" lengthAdjust="spacingAndGlyphs">48 h</text>
<text x="232.3" y="333.7" font-family='"Liberation Serif", serif' font-size="8" font-weight="bold" font-style="normal" text-anchor="start" fill="#000" textLength="13" lengthAdjust="spacingAndGlyphs">72 h</text>
<text x="103.3" y="346" font-family='"Liberation Serif", serif' font-size="7.5" font-weight="normal" font-style="normal" text-anchor="start" fill="#000" textLength="61.4" lengthAdjust="spacingAndGlyphs">Hours after injection</text>
<rect x="238.8" y="198.75" width="8.1" height="2.5" fill="#000" stroke="#000" stroke-width="0"/>
<text x="253" y="201.81" font-family='"Liberation Serif", serif' font-size="5.5" font-weight="normal" font-style="normal" text-anchor="start" fill="#000" textLength="7.5" lengthAdjust="spacingAndGlyphs">CK</text>
<rect x="238.8" y="205.02" width="8.1" height="2.5" fill="#000" stroke="#000" stroke-width="0"/>
<text x="253" y="208.09" font-family='"Liberation Serif", serif' font-size="5.5" font-weight="normal" font-style="normal" text-anchor="start" fill="#000" textLength="14.69" lengthAdjust="spacingAndGlyphs">dsGFP</text>
<rect x="238.8" y="211.29" width="8.1" height="2.5" fill="#000" stroke="#000" stroke-width="0"/>
<text x="253" y="214.35" font-family='"Liberation Serif", serif' font-size="5.5" font-weight="normal" font-style="normal" text-anchor="start" fill="#000" textLength="24.6" lengthAdjust="spacingAndGlyphs">dsTcTre1-1</text>
<rect x="238.8" y="217.56" width="8.1" height="2.5" fill="#000" stroke="#000" stroke-width="0"/>
<text x="253" y="220.62" font-family='"Liberation Serif", serif' font-size="5.5" font-weight="normal" font-style="normal" text-anchor="start" fill="#000" textLength="24.6" lengthAdjust="spacingAndGlyphs">dsTcTre1-2</text>
<rect x="238.8" y="223.83" width="8.1" height="2.5" fill="#000" stroke="#000" stroke-width="0"/>
<text x="253" y="226.89" font-family='"Liberation Serif", serif' font-size="5.5" font-weight="normal" font-style="normal" text-anchor="start" fill="#000" textLength="24.6" lengthAdjust="spacingAndGlyphs">dsTcTre1-3</text>
<rect x="238.8" y="230.1" width="8.1" height="2.5" fill="#000" stroke="#000" stroke-width="0"/>
<text x="253" y="233.16" font-family='"Liberation Serif", serif' font-size="5.5" font-weight="normal" font-style="normal" text-anchor="start" fill="#000" textLength="24.6" lengthAdjust="spacingAndGlyphs">dsTcTre1-4</text>
<rect x="238.8" y="236.37" width="8.1" height="2.5" fill="#000" stroke="#000" stroke-width="0"/>
<rect x="239.6" y="237.17" width="6.5" height="0.9" fill="#800080" stroke="#000" stroke-width="0"/>
<text x="253" y="239.44" font-family='"Liberation Serif", serif' font-size="5.5" font-weight="normal" font-style="normal" text-anchor="start" fill="#000" textLength="20.11" lengthAdjust="spacingAndGlyphs">dsTcTre2</text>
<rect x="326.1" y="305.45" width="5.93" height="18.85" fill="#800000" stroke="#000" stroke-width="0.9"/>
<rect x="332.03" y="305.07" width="5.93" height="19.23" fill="#0000ff" stroke="#000" stroke-width="0.9"/>
<rect x="337.96" y="318.65" width="5.93" height="5.66" fill="#ff00ff" stroke="#000" stroke-width="0.9"/>
<line x1="340.93" y1="318.65" x2="340.93" y2="317.7" stroke="#000" stroke-width="0.9"/>
<line x1="339.03" y1="317.7" x2="342.82" y2="317.7" stroke="#000" stroke-width="1"/>
<text x="340.93" y="316.9" font-family='"Liberation Serif", serif' font-size="5" font-weight="bold" font-style="normal" text-anchor="middle" fill="#000">**</text>
<rect x="343.89" y="296.4" width="5.93" height="27.9" fill="#ffff00" stroke="#000" stroke-width="0.9"/>
<line x1="346.86" y1="296.4" x2="346.86" y2="292.44" stroke="#000" stroke-width="0.9"/>
<line x1="344.96" y1="292.44" x2="348.75" y2="292.44" stroke="#000" stroke-width="1"/>
<text x="346.86" y="291.64" font-family='"Liberation Serif", serif' font-size="5" font-weight="bold" font-style="normal" text-anchor="middle" fill="#000">**</text>
<rect x="349.82" y="299.8" width="5.93" height="24.51" fill="#ff0000" stroke="#000" stroke-width="0.9"/>
<line x1="352.79" y1="299.8" x2="352.79" y2="298.85" stroke="#000" stroke-width="0.9"/>
<line x1="350.89" y1="298.85" x2="354.69" y2="298.85" stroke="#000" stroke-width="1"/>
<text x="352.79" y="298.05" font-family='"Liberation Serif", serif' font-size="5" font-weight="bold" font-style="normal" text-anchor="middle" fill="#000">**</text>
<rect x="355.75" y="318.65" width="5.93" height="5.66" fill="#008000" stroke="#000" stroke-width="0.9"/>
<line x1="358.71" y1="318.65" x2="358.71" y2="318.08" stroke="#000" stroke-width="0.9"/>
<line x1="356.81" y1="318.08" x2="360.61" y2="318.08" stroke="#000" stroke-width="1"/>
<text x="358.71" y="317.28" font-family='"Liberation Serif", serif' font-size="5" font-weight="bold" font-style="normal" text-anchor="middle" fill="#000">**</text>
<rect x="361.68" y="320.53" width="5.93" height="3.77" fill="#800080" stroke="#000" stroke-width="0.9"/>
<line x1="364.64" y1="320.53" x2="364.64" y2="319.96" stroke="#000" stroke-width="0.9"/>
<line x1="362.75" y1="319.96" x2="366.54" y2="319.96" stroke="#000" stroke-width="1"/>
<text x="364.64" y="319.16" font-family='"Liberation Serif", serif' font-size="5" font-weight="bold" font-style="normal" text-anchor="middle" fill="#000">**</text>
<rect x="375.2" y="305.45" width="5.93" height="18.85" fill="#800000" stroke="#000" stroke-width="0.9"/>
<rect x="381.13" y="308.09" width="5.93" height="16.21" fill="#0000ff" stroke="#000" stroke-width="0.9"/>
<rect x="387.06" y="287.17" width="5.93" height="37.13" fill="#ff00ff" stroke="#000" stroke-width="0.9"/>
<line x1="390.02" y1="287.17" x2="390.02" y2="279.63" stroke="#000" stroke-width="0.9"/>
<line x1="388.12" y1="279.63" x2="391.92" y2="279.63" stroke="#000" stroke-width="1"/>
<text x="390.02" y="278.83" font-family='"Liberation Serif", serif' font-size="5" font-weight="bold" font-style="normal" text-anchor="middle" fill="#000">**</text>
<rect x="392.99" y="307.34" width="5.93" height="16.97" fill="#ffff00" stroke="#000" stroke-width="0.9"/>
<line x1="395.95" y1="307.34" x2="395.95" y2="306.39" stroke="#000" stroke-width="0.9"/>
<line x1="394.06" y1="306.39" x2="397.85" y2="306.39" stroke="#000" stroke-width="1"/>
<text x="395.95" y="305.59" font-family='"Liberation Serif", serif' font-size="5" font-weight="bold" font-style="normal" text-anchor="middle" fill="#000">**</text>
<rect x="398.92" y="292.63" width="5.93" height="31.67" fill="#ff0000" stroke="#000" stroke-width="0.9"/>
<line x1="401.88" y1="292.63" x2="401.88" y2="291.69" stroke="#000" stroke-width="0.9"/>
<line x1="399.98" y1="291.69" x2="403.78" y2="291.69" stroke="#000" stroke-width="1"/>
<text x="401.88" y="290.89" font-family='"Liberation Serif", serif' font-size="5" font-weight="bold" font-style="normal" text-anchor="middle" fill="#000">**</text>
<rect x="404.85" y="320.53" width="5.93" height="3.77" fill="#008000" stroke="#000" stroke-width="0.9"/>
<line x1="407.81" y1="320.53" x2="407.81" y2="319.96" stroke="#000" stroke-width="0.9"/>
<line x1="405.91" y1="319.96" x2="409.71" y2="319.96" stroke="#000" stroke-width="1"/>
<text x="407.81" y="319.16" font-family='"Liberation Serif", serif' font-size="5" font-weight="bold" font-style="normal" text-anchor="middle" fill="#000">**</text>
<rect x="410.78" y="311.11" width="5.93" height="13.2" fill="#800080" stroke="#000" stroke-width="0.9"/>
<line x1="413.74" y1="311.11" x2="413.74" y2="310.16" stroke="#000" stroke-width="0.9"/>
<line x1="411.84" y1="310.16" x2="415.64" y2="310.16" stroke="#000" stroke-width="1"/>
<text x="413.74" y="309.36" font-family='"Liberation Serif", serif' font-size="5" font-weight="bold" font-style="normal" text-anchor="middle" fill="#000">**</text>
<rect x="424.4" y="305.45" width="5.93" height="18.85" fill="#800000" stroke="#000" stroke-width="0.9"/>
<rect x="430.33" y="306.58" width="5.93" height="17.72" fill="#0000ff" stroke="#000" stroke-width="0.9"/>
<rect x="436.26" y="290.37" width="5.93" height="33.93" fill="#ff00ff" stroke="#000" stroke-width="0.9"/>
<line x1="439.22" y1="290.37" x2="439.22" y2="284.72" stroke="#000" stroke-width="0.9"/>
<line x1="437.32" y1="284.72" x2="441.12" y2="284.72" stroke="#000" stroke-width="1"/>
<text x="439.22" y="283.92" font-family='"Liberation Serif", serif' font-size="5" font-weight="bold" font-style="normal" text-anchor="middle" fill="#000">**</text>
<rect x="442.19" y="309.79" width="5.93" height="14.51" fill="#ffff00" stroke="#000" stroke-width="0.9"/>
<line x1="445.15" y1="309.79" x2="445.15" y2="309.41" stroke="#000" stroke-width="0.9"/>
<line x1="443.25" y1="309.41" x2="447.05" y2="309.41" stroke="#000" stroke-width="1"/>
<rect x="448.12" y="212.14" width="5.93" height="112.16" fill="#ff0000" stroke="#000" stroke-width="0.9"/>
<line x1="451.08" y1="212.14" x2="451.08" y2="200.83" stroke="#000" stroke-width="0.9"/>
<line x1="449.19" y1="200.83" x2="452.98" y2="200.83" stroke="#000" stroke-width="1"/>
<text x="451.08" y="200.03" font-family='"Liberation Serif", serif' font-size="5" font-weight="bold" font-style="normal" text-anchor="middle" fill="#000">**</text>
<rect x="454.05" y="319.96" width="5.93" height="4.34" fill="#008000" stroke="#000" stroke-width="0.9"/>
<line x1="457.01" y1="319.96" x2="457.01" y2="319.4" stroke="#000" stroke-width="0.9"/>
<line x1="455.11" y1="319.4" x2="458.91" y2="319.4" stroke="#000" stroke-width="1"/>
<text x="457.01" y="318.6" font-family='"Liberation Serif", serif' font-size="5" font-weight="bold" font-style="normal" text-anchor="middle" fill="#000">**</text>
<rect x="459.98" y="316.19" width="5.93" height="8.11" fill="#800080" stroke="#000" stroke-width="0.9"/>
<line x1="462.94" y1="316.19" x2="462.94" y2="315.63" stroke="#000" stroke-width="0.9"/>
<line x1="461.04" y1="315.63" x2="464.84" y2="315.63" stroke="#000" stroke-width="1"/>
<text x="462.94" y="314.83" font-family='"Liberation Serif", serif' font-size="5" font-weight="bold" font-style="normal" text-anchor="middle" fill="#000">**</text>
<rect x="473.5" y="305.45" width="5.93" height="18.85" fill="#800000" stroke="#000" stroke-width="0.9"/>
<rect x="479.43" y="306.77" width="5.93" height="17.53" fill="#0000ff" stroke="#000" stroke-width="0.9"/>
<rect x="485.36" y="301.68" width="5.93" height="22.62" fill="#ff00ff" stroke="#000" stroke-width="0.9"/>
<line x1="488.32" y1="301.68" x2="488.32" y2="297.16" stroke="#000" stroke-width="0.9"/>
<line x1="486.43" y1="297.16" x2="490.22" y2="297.16" stroke="#000" stroke-width="1"/>
<text x="488.32" y="296.36" font-family='"Liberation Serif", serif' font-size="5" font-weight="bold" font-style="normal" text-anchor="middle" fill="#000">**</text>
<rect x="491.29" y="318.46" width="5.93" height="5.84" fill="#ffff00" stroke="#000" stroke-width="0.9"/>
<line x1="494.25" y1="318.46" x2="494.25" y2="317.89" stroke="#000" stroke-width="0.9"/>
<line x1="492.36" y1="317.89" x2="496.15" y2="317.89" stroke="#000" stroke-width="1"/>
<text x="494.25" y="317.09" font-family='"Liberation Serif", serif' font-size="5" font-weight="bold" font-style="normal" text-anchor="middle" fill="#000">**</text>
<rect x="497.22" y="319.21" width="5.93" height="5.09" fill="#ff0000" stroke="#000" stroke-width="0.9"/>
<line x1="500.19" y1="319.21" x2="500.19" y2="318.64" stroke="#000" stroke-width="0.9"/>
<line x1="498.29" y1="318.64" x2="502.08" y2="318.64" stroke="#000" stroke-width="1"/>
<text x="500.19" y="317.84" font-family='"Liberation Serif", serif' font-size="5" font-weight="bold" font-style="normal" text-anchor="middle" fill="#000">**</text>
<rect x="503.15" y="322.23" width="5.93" height="2.07" fill="#008000" stroke="#000" stroke-width="0.9"/>
<line x1="506.11" y1="322.23" x2="506.11" y2="321.85" stroke="#000" stroke-width="0.9"/>
<line x1="504.21" y1="321.85" x2="508.01" y2="321.85" stroke="#000" stroke-width="1"/>
<text x="506.11" y="321.05" font-family='"Liberation Serif", serif' font-size="5" font-weight="bold" font-style="normal" text-anchor="middle" fill="#000">**</text>
<rect x="509.08" y="322.23" width="5.93" height="2.07" fill="#800080" stroke="#000" stroke-width="0.9"/>
<line x1="512.04" y1="322.23" x2="512.04" y2="321.85" stroke="#000" stroke-width="0.9"/>
<line x1="510.14" y1="321.85" x2="513.94" y2="321.85" stroke="#000" stroke-width="1"/>
<text x="512.04" y="321.05" font-family='"Liberation Serif", serif' font-size="5" font-weight="bold" font-style="normal" text-anchor="middle" fill="#000">**</text>
<rect x="522.4" y="305.45" width="5.93" height="18.85" fill="#800000" stroke="#000" stroke-width="0.9"/>
<rect x="528.33" y="307.34" width="5.93" height="16.97" fill="#0000ff" stroke="#000" stroke-width="0.9"/>
<rect x="534.26" y="308.28" width="5.93" height="16.02" fill="#ff00ff" stroke="#000" stroke-width="0.9"/>
<line x1="537.23" y1="308.28" x2="537.23" y2="307.71" stroke="#000" stroke-width="0.9"/>
<line x1="535.33" y1="307.71" x2="539.12" y2="307.71" stroke="#000" stroke-width="1"/>
<text x="537.23" y="306.91" font-family='"Liberation Serif", serif' font-size="5" font-weight="bold" font-style="normal" text-anchor="middle" fill="#000">**</text>
<rect x="540.19" y="310.35" width="5.93" height="13.95" fill="#ffff00" stroke="#000" stroke-width="0.9"/>
<line x1="543.15" y1="310.35" x2="543.15" y2="309.79" stroke="#000" stroke-width="0.9"/>
<line x1="541.25" y1="309.79" x2="545.05" y2="309.79" stroke="#000" stroke-width="1"/>
<text x="543.15" y="308.99" font-family='"Liberation Serif", serif' font-size="5" font-weight="bold" font-style="normal" text-anchor="middle" fill="#000">**</text>
<rect x="546.12" y="312.8" width="5.93" height="11.5" fill="#ff0000" stroke="#000" stroke-width="0.9"/>
<line x1="549.09" y1="312.8" x2="549.09" y2="312.24" stroke="#000" stroke-width="0.9"/>
<line x1="547.19" y1="312.24" x2="550.99" y2="312.24" stroke="#000" stroke-width="1"/>
<text x="549.09" y="311.44" font-family='"Liberation Serif", serif' font-size="5" font-weight="bold" font-style="normal" text-anchor="middle" fill="#000">**</text>
<rect x="552.05" y="318.46" width="5.93" height="5.84" fill="#008000" stroke="#000" stroke-width="0.9"/>
<line x1="555.01" y1="318.46" x2="555.01" y2="317.89" stroke="#000" stroke-width="0.9"/>
<line x1="553.12" y1="317.89" x2="556.91" y2="317.89" stroke="#000" stroke-width="1"/>
<text x="555.01" y="317.09" font-family='"Liberation Serif", serif' font-size="5" font-weight="bold" font-style="normal" text-anchor="middle" fill="#000">**</text>
<rect x="557.98" y="321.28" width="5.93" height="3.02" fill="#800080" stroke="#000" stroke-width="0.9"/>
<line x1="560.95" y1="321.28" x2="560.95" y2="320.72" stroke="#000" stroke-width="0.9"/>
<line x1="559.05" y1="320.72" x2="562.85" y2="320.72" stroke="#000" stroke-width="1"/>
<text x="560.95" y="319.92" font-family='"Liberation Serif", serif' font-size="5" font-weight="bold" font-style="normal" text-anchor="middle" fill="#000">**</text>
<line x1="321.9" y1="192" x2="321.9" y2="324.8" stroke="#303030" stroke-width="1.1"/>
<line x1="321.4" y1="324.9" x2="564" y2="324.9" stroke="#000" stroke-width="1.4"/>
<text x="318.5" y="327.01" font-family='"Liberation Serif", serif' font-size="8.2" font-weight="normal" font-style="normal" text-anchor="end" fill="#000">0</text>
<line x1="321.9" y1="305.45" x2="325.1" y2="305.45" stroke="#303030" stroke-width="1"/>
<text x="318.5" y="308.16" font-family='"Liberation Serif", serif' font-size="8.2" font-weight="normal" font-style="normal" text-anchor="end" fill="#000">1</text>
<line x1="321.9" y1="286.6" x2="325.1" y2="286.6" stroke="#303030" stroke-width="1"/>
<text x="318.5" y="289.31" font-family='"Liberation Serif", serif' font-size="8.2" font-weight="normal" font-style="normal" text-anchor="end" fill="#000">2</text>
<line x1="321.9" y1="267.75" x2="325.1" y2="267.75" stroke="#303030" stroke-width="1"/>
<text x="318.5" y="270.46" font-family='"Liberation Serif", serif' font-size="8.2" font-weight="normal" font-style="normal" text-anchor="end" fill="#000">3</text>
<line x1="321.9" y1="248.9" x2="325.1" y2="248.9" stroke="#303030" stroke-width="1"/>
<text x="318.5" y="251.61" font-family='"Liberation Serif", serif' font-size="8.2" font-weight="normal" font-style="normal" text-anchor="end" fill="#000">4</text>
<line x1="321.9" y1="230.05" x2="325.1" y2="230.05" stroke="#303030" stroke-width="1"/>
<text x="318.5" y="232.76" font-family='"Liberation Serif", serif' font-size="8.2" font-weight="normal" font-style="normal" text-anchor="end" fill="#000">5</text>
<line x1="321.9" y1="211.2" x2="325.1" y2="211.2" stroke="#303030" stroke-width="1"/>
<text x="318.5" y="213.91" font-family='"Liberation Serif", serif' font-size="8.2" font-weight="normal" font-style="normal" text-anchor="end" fill="#000">6</text>
<line x1="321.9" y1="192.35" x2="325.1" y2="192.35" stroke="#303030" stroke-width="1"/>
<text x="318.5" y="195.06" font-family='"Liberation Serif", serif' font-size="8.2" font-weight="normal" font-style="normal" text-anchor="end" fill="#000">7</text>
<text x="293" y="187.1" font-family='"Liberation Sans", sans-serif' font-size="20" font-weight="bold" font-style="normal" text-anchor="start" fill="#000" stroke="#000" stroke-width="0.45">d</text>
<text x="412.5" y="194" font-family='"Liberation Serif", serif' font-size="8.5" font-weight="bold" font-style="italic" textLength="42.3" lengthAdjust="spacing">TcTre1-4</text>
<text transform="translate(300.4 258.5) rotate(-90)" x="0" y="0" font-family='"Liberation Serif", serif' font-size="7" font-weight="bold" text-anchor="middle" textLength="60" lengthAdjust="spacingAndGlyphs">Relative expression</text>
<text x="343.9" y="333.9" font-family='"Liberation Serif", serif' font-size="7" font-weight="bold" font-style="normal" text-anchor="start" fill="#000" textLength="10.5" lengthAdjust="spacingAndGlyphs">12h</text>
<text x="393.2" y="333.9" font-family='"Liberation Serif", serif' font-size="7" font-weight="bold" font-style="normal" text-anchor="start" fill="#000" textLength="11.3" lengthAdjust="spacingAndGlyphs">24h</text>
<text x="443.5" y="333.9" font-family='"Liberation Serif", serif' font-size="7" font-weight="bold" font-style="normal" text-anchor="start" fill="#000" textLength="10.3" lengthAdjust="spacingAndGlyphs">36h</text>
<text x="492" y="333.9" font-family='"Liberation Serif", serif' font-size="7" font-weight="bold" font-style="normal" text-anchor="start" fill="#000" textLength="10.3" lengthAdjust="spacingAndGlyphs">48h</text>
<text x="542" y="333.9" font-family='"Liberation Serif", serif' font-size="7" font-weight="bold" font-style="normal" text-anchor="start" fill="#000" textLength="10.3" lengthAdjust="spacingAndGlyphs">72h</text>
<text x="412.8" y="345.8" font-family='"Liberation Serif", serif' font-size="7.5" font-weight="normal" font-style="normal" text-anchor="start" fill="#000" textLength="61.4" lengthAdjust="spacingAndGlyphs">Hours after injection</text>
<rect x="526.1" y="187.95" width="8.3" height="2.5" fill="#000" stroke="#000" stroke-width="0"/>
<rect x="526.9" y="188.75" width="6.7" height="0.9" fill="#800000" stroke="#000" stroke-width="0"/>
<text x="540.4" y="191.01" font-family='"Liberation Serif", serif' font-size="5.5" font-weight="normal" font-style="normal" text-anchor="start" fill="#000" textLength="8.68" lengthAdjust="spacingAndGlyphs">CK</text>
<rect x="526.1" y="194.52" width="8.3" height="2.5" fill="#000" stroke="#000" stroke-width="0"/>
<text x="540.4" y="197.58" font-family='"Liberation Serif", serif' font-size="5.5" font-weight="normal" font-style="normal" text-anchor="start" fill="#000" textLength="17.02" lengthAdjust="spacingAndGlyphs">dsGFP</text>
<rect x="526.1" y="201.09" width="8.3" height="2.5" fill="#000" stroke="#000" stroke-width="0"/>
<rect x="526.9" y="201.89" width="6.7" height="0.9" fill="#ff00ff" stroke="#000" stroke-width="0"/>
<text x="540.4" y="204.15" font-family='"Liberation Serif", serif' font-size="5.5" font-weight="normal" font-style="normal" text-anchor="start" fill="#000" textLength="28.5" lengthAdjust="spacingAndGlyphs">dsTcTre1-1</text>
<rect x="526.1" y="207.66" width="8.3" height="2.5" fill="#000" stroke="#000" stroke-width="0"/>
<rect x="526.9" y="208.46" width="6.7" height="0.9" fill="#c0c000" stroke="#000" stroke-width="0"/>
<text x="540.4" y="210.72" font-family='"Liberation Serif", serif' font-size="5.5" font-weight="normal" font-style="normal" text-anchor="start" fill="#000" textLength="28.5" lengthAdjust="spacingAndGlyphs">dsTcTre1-2</text>
<rect x="526.1" y="214.23" width="8.3" height="2.5" fill="#000" stroke="#000" stroke-width="0"/>
<rect x="526.9" y="215.03" width="6.7" height="0.9" fill="#ff0000" stroke="#000" stroke-width="0"/>
<text x="540.4" y="217.29" font-family='"Liberation Serif", serif' font-size="5.5" font-weight="normal" font-style="normal" text-anchor="start" fill="#000" textLength="28.5" lengthAdjust="spacingAndGlyphs">dsTcTre1-3</text>
<rect x="526.1" y="220.8" width="8.3" height="2.5" fill="#000" stroke="#000" stroke-width="0"/>
<text x="540.4" y="223.86" font-family='"Liberation Serif", serif' font-size="5.5" font-weight="normal" font-style="normal" text-anchor="start" fill="#000" textLength="28.5" lengthAdjust="spacingAndGlyphs">dsTcTre1-4</text>
<rect x="526.1" y="227.37" width="8.3" height="2.5" fill="#000" stroke="#000" stroke-width="0"/>
<text x="540.4" y="230.44" font-family='"Liberation Serif", serif' font-size="5.5" font-weight="normal" font-style="normal" text-anchor="start" fill="#000" textLength="23.29" lengthAdjust="spacingAndGlyphs">dsTcTre2</text>
<rect x="30.1" y="475.85" width="6.2" height="27.45" fill="#800000" stroke="#000" stroke-width="0.9"/>
<rect x="36.3" y="476.4" width="6.2" height="26.9" fill="#000080" stroke="#000" stroke-width="0.9"/>
<rect x="42.5" y="472.83" width="6.2" height="30.47" fill="#ff00ff" stroke="#000" stroke-width="0.9"/>
<line x1="45.6" y1="472.83" x2="45.6" y2="469.81" stroke="#000" stroke-width="0.9"/>
<line x1="43.7" y1="469.81" x2="47.5" y2="469.81" stroke="#000" stroke-width="1"/>
<text x="45.6" y="468.51" font-family='"Liberation Serif", serif' font-size="5" font-weight="bold" font-style="normal" text-anchor="middle" fill="#000">**</text>
<rect x="48.7" y="490.12" width="6.2" height="13.18" fill="#ffff00" stroke="#000" stroke-width="0.9"/>
<line x1="51.8" y1="490.12" x2="51.8" y2="488.75" stroke="#000" stroke-width="0.9"/>
<line x1="49.9" y1="488.75" x2="53.7" y2="488.75" stroke="#000" stroke-width="1"/>
<text x="51.8" y="487.45" font-family='"Liberation Serif", serif' font-size="5" font-weight="bold" font-style="normal" text-anchor="middle" fill="#000">**</text>
<rect x="54.9" y="466.79" width="6.2" height="36.51" fill="#ff0000" stroke="#000" stroke-width="0.9"/>
<line x1="58" y1="466.79" x2="58" y2="461.85" stroke="#000" stroke-width="0.9"/>
<line x1="56.1" y1="461.85" x2="59.9" y2="461.85" stroke="#000" stroke-width="1"/>
<text x="58" y="460.55" font-family='"Liberation Serif", serif' font-size="5" font-weight="bold" font-style="normal" text-anchor="middle" fill="#000">**</text>
<rect x="61.1" y="489.03" width="6.2" height="14.27" fill="#008000" stroke="#000" stroke-width="0.9"/>
<line x1="64.2" y1="489.03" x2="64.2" y2="487.65" stroke="#000" stroke-width="0.9"/>
<line x1="62.3" y1="487.65" x2="66.1" y2="487.65" stroke="#000" stroke-width="1"/>
<text x="64.2" y="486.35" font-family='"Liberation Serif", serif' font-size="5" font-weight="bold" font-style="normal" text-anchor="middle" fill="#000">**</text>
<rect x="67.3" y="500.83" width="6.2" height="2.47" fill="#800080" stroke="#000" stroke-width="0.9"/>
<line x1="70.4" y1="500.83" x2="70.4" y2="500.28" stroke="#000" stroke-width="0.9"/>
<line x1="68.5" y1="500.28" x2="72.3" y2="500.28" stroke="#000" stroke-width="1"/>
<text x="70.4" y="498.98" font-family='"Liberation Serif", serif' font-size="5" font-weight="bold" font-style="normal" text-anchor="middle" fill="#000">**</text>
<rect x="81.4" y="475.85" width="6.2" height="27.45" fill="#800000" stroke="#000" stroke-width="0.9"/>
<rect x="87.6" y="476.67" width="6.2" height="26.63" fill="#000080" stroke="#000" stroke-width="0.9"/>
<rect x="93.8" y="402.01" width="6.2" height="101.29" fill="#ff00ff" stroke="#000" stroke-width="0.9"/>
<line x1="96.9" y1="402.01" x2="96.9" y2="394.05" stroke="#000" stroke-width="0.9"/>
<line x1="95" y1="394.05" x2="98.8" y2="394.05" stroke="#000" stroke-width="1"/>
<text x="96.9" y="392.75" font-family='"Liberation Serif", serif' font-size="5" font-weight="bold" font-style="normal" text-anchor="middle" fill="#000">**</text>
<rect x="100" y="470.91" width="6.2" height="32.39" fill="#ffff00" stroke="#000" stroke-width="0.9"/>
<line x1="103.1" y1="470.91" x2="103.1" y2="469.54" stroke="#000" stroke-width="0.9"/>
<line x1="101.2" y1="469.54" x2="105" y2="469.54" stroke="#000" stroke-width="1"/>
<text x="103.1" y="468.24" font-family='"Liberation Serif", serif' font-size="5" font-weight="bold" font-style="normal" text-anchor="middle" fill="#000">**</text>
<rect x="106.2" y="411.34" width="6.2" height="91.96" fill="#ff0000" stroke="#000" stroke-width="0.9"/>
<line x1="109.3" y1="411.34" x2="109.3" y2="403.11" stroke="#000" stroke-width="0.9"/>
<line x1="107.4" y1="403.11" x2="111.2" y2="403.11" stroke="#000" stroke-width="1"/>
<text x="109.3" y="401.81" font-family='"Liberation Serif", serif' font-size="5" font-weight="bold" font-style="normal" text-anchor="middle" fill="#000">**</text>
<rect x="112.4" y="471.18" width="6.2" height="32.12" fill="#008000" stroke="#000" stroke-width="0.9"/>
<line x1="115.5" y1="471.18" x2="115.5" y2="469.81" stroke="#000" stroke-width="0.9"/>
<line x1="113.6" y1="469.81" x2="117.4" y2="469.81" stroke="#000" stroke-width="1"/>
<text x="115.5" y="468.51" font-family='"Liberation Serif", serif' font-size="5" font-weight="bold" font-style="normal" text-anchor="middle" fill="#000">**</text>
<rect x="118.6" y="495.89" width="6.2" height="7.41" fill="#800080" stroke="#000" stroke-width="0.9"/>
<line x1="121.7" y1="495.89" x2="121.7" y2="493.69" stroke="#000" stroke-width="0.9"/>
<line x1="119.8" y1="493.69" x2="123.6" y2="493.69" stroke="#000" stroke-width="1"/>
<text x="121.7" y="492.39" font-family='"Liberation Serif", serif' font-size="5" font-weight="bold" font-style="normal" text-anchor="middle" fill="#000">**</text>
<rect x="132.5" y="475.85" width="6.2" height="27.45" fill="#800000" stroke="#000" stroke-width="0.9"/>
<rect x="138.7" y="476.12" width="6.2" height="27.18" fill="#000080" stroke="#000" stroke-width="0.9"/>
<line x1="141.8" y1="476.12" x2="141.8" y2="475.58" stroke="#000" stroke-width="0.9"/>
<line x1="139.9" y1="475.58" x2="143.7" y2="475.58" stroke="#000" stroke-width="1"/>
<rect x="144.9" y="485.46" width="6.2" height="17.84" fill="#ff00ff" stroke="#000" stroke-width="0.9"/>
<line x1="148" y1="485.46" x2="148" y2="484.09" stroke="#000" stroke-width="0.9"/>
<line x1="146.1" y1="484.09" x2="149.9" y2="484.09" stroke="#000" stroke-width="1"/>
<text x="148" y="482.79" font-family='"Liberation Serif", serif' font-size="5" font-weight="bold" font-style="normal" text-anchor="middle" fill="#000">**</text>
<rect x="151.1" y="460.48" width="6.2" height="42.82" fill="#ffff00" stroke="#000" stroke-width="0.9"/>
<line x1="154.2" y1="460.48" x2="154.2" y2="458.28" stroke="#000" stroke-width="0.9"/>
<line x1="152.3" y1="458.28" x2="156.1" y2="458.28" stroke="#000" stroke-width="1"/>
<text x="154.2" y="456.98" font-family='"Liberation Serif", serif' font-size="5" font-weight="bold" font-style="normal" text-anchor="middle" fill="#000">**</text>
<rect x="157.3" y="468.99" width="6.2" height="34.31" fill="#ff0000" stroke="#000" stroke-width="0.9"/>
<line x1="160.4" y1="468.99" x2="160.4" y2="466.24" stroke="#000" stroke-width="0.9"/>
<line x1="158.5" y1="466.24" x2="162.3" y2="466.24" stroke="#000" stroke-width="1"/>
<text x="160.4" y="464.94" font-family='"Liberation Serif", serif' font-size="5" font-weight="bold" font-style="normal" text-anchor="middle" fill="#000">**</text>
<rect x="163.5" y="468.44" width="6.2" height="34.86" fill="#008000" stroke="#000" stroke-width="0.9"/>
<line x1="166.6" y1="468.44" x2="166.6" y2="467.07" stroke="#000" stroke-width="0.9"/>
<line x1="164.7" y1="467.07" x2="168.5" y2="467.07" stroke="#000" stroke-width="1"/>
<text x="166.6" y="465.77" font-family='"Liberation Serif", serif' font-size="5" font-weight="bold" font-style="normal" text-anchor="middle" fill="#000">**</text>
<rect x="169.7" y="497.81" width="6.2" height="5.49" fill="#800080" stroke="#000" stroke-width="0.9"/>
<line x1="172.8" y1="497.81" x2="172.8" y2="496.99" stroke="#000" stroke-width="0.9"/>
<line x1="170.9" y1="496.99" x2="174.7" y2="496.99" stroke="#000" stroke-width="1"/>
<text x="172.8" y="495.69" font-family='"Liberation Serif", serif' font-size="5" font-weight="bold" font-style="normal" text-anchor="middle" fill="#000">**</text>
<rect x="184.3" y="475.85" width="6.2" height="27.45" fill="#800000" stroke="#000" stroke-width="0.9"/>
<rect x="190.5" y="479.97" width="6.2" height="23.33" fill="#000080" stroke="#000" stroke-width="0.9"/>
<line x1="193.6" y1="479.97" x2="193.6" y2="479.42" stroke="#000" stroke-width="0.9"/>
<line x1="191.7" y1="479.42" x2="195.5" y2="479.42" stroke="#000" stroke-width="1"/>
<text x="193.6" y="478.12" font-family='"Liberation Serif", serif' font-size="5" font-weight="bold" font-style="normal" text-anchor="middle" fill="#000">**</text>
<rect x="196.7" y="493.42" width="6.2" height="9.88" fill="#ff00ff" stroke="#000" stroke-width="0.9"/>
<line x1="199.8" y1="493.42" x2="199.8" y2="491.5" stroke="#000" stroke-width="0.9"/>
<line x1="197.9" y1="491.5" x2="201.7" y2="491.5" stroke="#000" stroke-width="1"/>
<text x="199.8" y="490.2" font-family='"Liberation Serif", serif' font-size="5" font-weight="bold" font-style="normal" text-anchor="middle" fill="#000">**</text>
<rect x="202.9" y="496.99" width="6.2" height="6.31" fill="#ffff00" stroke="#000" stroke-width="0.9"/>
<line x1="206" y1="496.99" x2="206" y2="496.16" stroke="#000" stroke-width="0.9"/>
<line x1="204.1" y1="496.16" x2="207.9" y2="496.16" stroke="#000" stroke-width="1"/>
<text x="206" y="494.86" font-family='"Liberation Serif", serif' font-size="5" font-weight="bold" font-style="normal" text-anchor="middle" fill="#000">**</text>
<rect x="209.1" y="497.81" width="6.2" height="5.49" fill="#ff0000" stroke="#000" stroke-width="0.9"/>
<line x1="212.2" y1="497.81" x2="212.2" y2="496.99" stroke="#000" stroke-width="0.9"/>
<line x1="210.3" y1="496.99" x2="214.1" y2="496.99" stroke="#000" stroke-width="1"/>
<text x="212.2" y="495.69" font-family='"Liberation Serif", serif' font-size="5" font-weight="bold" font-style="normal" text-anchor="middle" fill="#000">**</text>
<rect x="215.3" y="489.3" width="6.2" height="14" fill="#008000" stroke="#000" stroke-width="0.9"/>
<line x1="218.4" y1="489.3" x2="218.4" y2="487.38" stroke="#000" stroke-width="0.9"/>
<line x1="216.5" y1="487.38" x2="220.3" y2="487.38" stroke="#000" stroke-width="1"/>
<text x="218.4" y="486.08" font-family='"Liberation Serif", serif' font-size="5" font-weight="bold" font-style="normal" text-anchor="middle" fill="#000">**</text>
<rect x="221.5" y="502.48" width="6.2" height="0.82" fill="#800080" stroke="#000" stroke-width="0.9"/>
<line x1="224.6" y1="502.48" x2="224.6" y2="502.2" stroke="#000" stroke-width="0.9"/>
<line x1="222.7" y1="502.2" x2="226.5" y2="502.2" stroke="#000" stroke-width="1"/>
<text x="224.6" y="500.9" font-family='"Liberation Serif", serif' font-size="5" font-weight="bold" font-style="normal" text-anchor="middle" fill="#000">**</text>
<rect x="235.5" y="475.85" width="6.2" height="27.45" fill="#800000" stroke="#000" stroke-width="0.9"/>
<rect x="241.7" y="478.05" width="6.2" height="25.25" fill="#000080" stroke="#000" stroke-width="0.9"/>
<line x1="244.8" y1="478.05" x2="244.8" y2="477.5" stroke="#000" stroke-width="0.9"/>
<line x1="242.9" y1="477.5" x2="246.7" y2="477.5" stroke="#000" stroke-width="1"/>
<rect x="247.9" y="489.3" width="6.2" height="14" fill="#ff00ff" stroke="#000" stroke-width="0.9"/>
<line x1="251" y1="489.3" x2="251" y2="487.1" stroke="#000" stroke-width="0.9"/>
<line x1="249.1" y1="487.1" x2="252.9" y2="487.1" stroke="#000" stroke-width="1"/>
<text x="251" y="485.8" font-family='"Liberation Serif", serif' font-size="5" font-weight="bold" font-style="normal" text-anchor="middle" fill="#000">**</text>
<rect x="254.1" y="465.69" width="6.2" height="37.61" fill="#ffff00" stroke="#000" stroke-width="0.9"/>
<line x1="257.2" y1="465.69" x2="257.2" y2="461.85" stroke="#000" stroke-width="0.9"/>
<line x1="255.3" y1="461.85" x2="259.1" y2="461.85" stroke="#000" stroke-width="1"/>
<text x="257.2" y="460.55" font-family='"Liberation Serif", serif' font-size="5" font-weight="bold" font-style="normal" text-anchor="middle" fill="#000">**</text>
<rect x="260.3" y="471.46" width="6.2" height="31.84" fill="#ff0000" stroke="#000" stroke-width="0.9"/>
<line x1="263.4" y1="471.46" x2="263.4" y2="468.71" stroke="#000" stroke-width="0.9"/>
<line x1="261.5" y1="468.71" x2="265.3" y2="468.71" stroke="#000" stroke-width="1"/>
<text x="263.4" y="467.41" font-family='"Liberation Serif", serif' font-size="5" font-weight="bold" font-style="normal" text-anchor="middle" fill="#000">**</text>
<rect x="266.5" y="456.36" width="6.2" height="46.94" fill="#008000" stroke="#000" stroke-width="0.9"/>
<line x1="269.6" y1="456.36" x2="269.6" y2="454.16" stroke="#000" stroke-width="0.9"/>
<line x1="267.7" y1="454.16" x2="271.5" y2="454.16" stroke="#000" stroke-width="1"/>
<text x="269.6" y="452.86" font-family='"Liberation Serif", serif' font-size="5" font-weight="bold" font-style="normal" text-anchor="middle" fill="#000">**</text>
<rect x="272.7" y="495.89" width="6.2" height="7.41" fill="#800080" stroke="#000" stroke-width="0.9"/>
<line x1="275.8" y1="495.89" x2="275.8" y2="495.06" stroke="#000" stroke-width="0.9"/>
<line x1="273.9" y1="495.06" x2="277.7" y2="495.06" stroke="#000" stroke-width="1"/>
<line x1="24.5" y1="363.8" x2="24.5" y2="503.8" stroke="#000" stroke-width="1.1"/>
<line x1="24" y1="503.3" x2="280.5" y2="503.3" stroke="#000" stroke-width="1.2"/>
<text x="22" y="505.81" font-family='"Liberation Serif", serif' font-size="7.6" font-weight="bold" font-style="normal" text-anchor="end" fill="#000">0</text>
<line x1="24.5" y1="475.5" x2="27.7" y2="475.5" stroke="#000" stroke-width="1"/>
<text x="22" y="478.01" font-family='"Liberation Serif", serif' font-size="7.6" font-weight="bold" font-style="normal" text-anchor="end" fill="#000">1</text>
<line x1="24.5" y1="447.7" x2="27.7" y2="447.7" stroke="#000" stroke-width="1"/>
<text x="22" y="450.21" font-family='"Liberation Serif", serif' font-size="7.6" font-weight="bold" font-style="normal" text-anchor="end" fill="#000">2</text>
<line x1="24.5" y1="419.9" x2="27.7" y2="419.9" stroke="#000" stroke-width="1"/>
<text x="22" y="422.41" font-family='"Liberation Serif", serif' font-size="7.6" font-weight="bold" font-style="normal" text-anchor="end" fill="#000">3</text>
<line x1="24.5" y1="392.1" x2="27.7" y2="392.1" stroke="#000" stroke-width="1"/>
<text x="22" y="394.61" font-family='"Liberation Serif", serif' font-size="7.6" font-weight="bold" font-style="normal" text-anchor="end" fill="#000">4</text>
<line x1="24.5" y1="364.3" x2="27.7" y2="364.3" stroke="#000" stroke-width="1"/>
<text x="22" y="366.81" font-family='"Liberation Serif", serif' font-size="7.6" font-weight="bold" font-style="normal" text-anchor="end" fill="#000">5</text>
<text x="-0.8" y="358.6" font-family='"Liberation Sans", sans-serif' font-size="19.5" font-weight="bold" font-style="normal" text-anchor="start" fill="#000" stroke="#000" stroke-width="0.45">e</text>
<text x="138.7" y="367.4" font-family='"Liberation Serif", serif' font-size="10.5" font-weight="bold" font-style="italic" text-anchor="start" fill="#000" textLength="26.7" lengthAdjust="spacingAndGlyphs">TcTre2</text>
<text transform="translate(8.4 433.4) rotate(-90)" x="0" y="0" font-family='"Liberation Serif", serif' font-size="8" font-weight="normal" text-anchor="middle" textLength="63" lengthAdjust="spacingAndGlyphs">Relative expression</text>
<text x="48.1" y="512.8" font-family='"Liberation Serif", serif' font-size="7.5" font-weight="bold" font-style="normal" text-anchor="start" fill="#000" textLength="11.5" lengthAdjust="spacingAndGlyphs">12h</text>
<text x="100.2" y="512.8" font-family='"Liberation Serif", serif' font-size="7.5" font-weight="bold" font-style="normal" text-anchor="start" fill="#000" textLength="11.8" lengthAdjust="spacingAndGlyphs">24h</text>
<text x="152.3" y="512.8" font-family='"Liberation Serif", serif' font-size="7.5" font-weight="bold" font-style="normal" text-anchor="start" fill="#000" textLength="12.3" lengthAdjust="spacingAndGlyphs">36h</text>
<text x="203.9" y="512.8" font-family='"Liberation Serif", serif' font-size="7.5" font-weight="bold" font-style="normal" text-anchor="start" fill="#000" textLength="11.7" lengthAdjust="spacingAndGlyphs">48h</text>
<text x="254.6" y="512.8" font-family='"Liberation Serif", serif' font-size="7.5" font-weight="bold" font-style="normal" text-anchor="start" fill="#000" textLength="11.9" lengthAdjust="spacingAndGlyphs">72h</text>
<text x="118.8" y="525.2" font-family='"Liberation Serif", serif' font-size="8.5" font-weight="bold" font-style="normal" text-anchor="start" fill="#000" textLength="67.1" lengthAdjust="spacingAndGlyphs">Hours after injection</text>
<rect x="240.1" y="368.15" width="7.8" height="2.5" fill="#000" stroke="#000" stroke-width="0"/>
<text x="254.5" y="371.21" font-family='"Liberation Serif", serif' font-size="5.5" font-weight="bold" font-style="normal" text-anchor="start" fill="#000" textLength="8.79" lengthAdjust="spacingAndGlyphs">CK</text>
<rect x="240.1" y="375" width="7.8" height="2.5" fill="#000" stroke="#000" stroke-width="0"/>
<rect x="240.9" y="375.8" width="6.2" height="0.9" fill="#000080" stroke="#000" stroke-width="0"/>
<text x="254.5" y="378.06" font-family='"Liberation Serif", serif' font-size="5.5" font-weight="bold" font-style="normal" text-anchor="start" fill="#000" textLength="17.26" lengthAdjust="spacingAndGlyphs">dsGFP</text>
<rect x="240.1" y="381.85" width="7.8" height="2.5" fill="#000" stroke="#000" stroke-width="0"/>
<rect x="240.9" y="382.65" width="6.2" height="0.9" fill="#ff00ff" stroke="#000" stroke-width="0"/>
<text x="254.5" y="384.91" font-family='"Liberation Serif", serif' font-size="5.5" font-weight="bold" font-style="normal" text-anchor="start" fill="#000" textLength="27.9" lengthAdjust="spacingAndGlyphs">dsTcTre1-1</text>
<rect x="240.1" y="388.7" width="7.8" height="2.5" fill="#000" stroke="#000" stroke-width="0"/>
<text x="254.5" y="391.76" font-family='"Liberation Serif", serif' font-size="5.5" font-weight="bold" font-style="normal" text-anchor="start" fill="#000" textLength="27.9" lengthAdjust="spacingAndGlyphs">dsTcTre1-2</text>
<rect x="240.1" y="395.55" width="7.8" height="2.5" fill="#000" stroke="#000" stroke-width="0"/>
<text x="254.5" y="398.61" font-family='"Liberation Serif", serif' font-size="5.5" font-weight="bold" font-style="normal" text-anchor="start" fill="#000" textLength="27.9" lengthAdjust="spacingAndGlyphs">dsTcTre1-3</text>
<rect x="240.1" y="402.4" width="7.8" height="2.5" fill="#000" stroke="#000" stroke-width="0"/>
<rect x="240.9" y="403.2" width="6.2" height="0.9" fill="#008000" stroke="#000" stroke-width="0"/>
<text x="254.5" y="405.46" font-family='"Liberation Serif", serif' font-size="5.5" font-weight="bold" font-style="normal" text-anchor="start" fill="#000" textLength="27.9" lengthAdjust="spacingAndGlyphs">dsTcTre1-4</text>
<rect x="240.1" y="409.25" width="7.8" height="2.5" fill="#000" stroke="#000" stroke-width="0"/>
<text x="254.5" y="412.31" font-family='"Liberation Serif", serif' font-size="5.5" font-weight="bold" font-style="normal" text-anchor="start" fill="#000" textLength="23.02" lengthAdjust="spacingAndGlyphs">dsTcTre2</text>
</svg>
</body></html>
